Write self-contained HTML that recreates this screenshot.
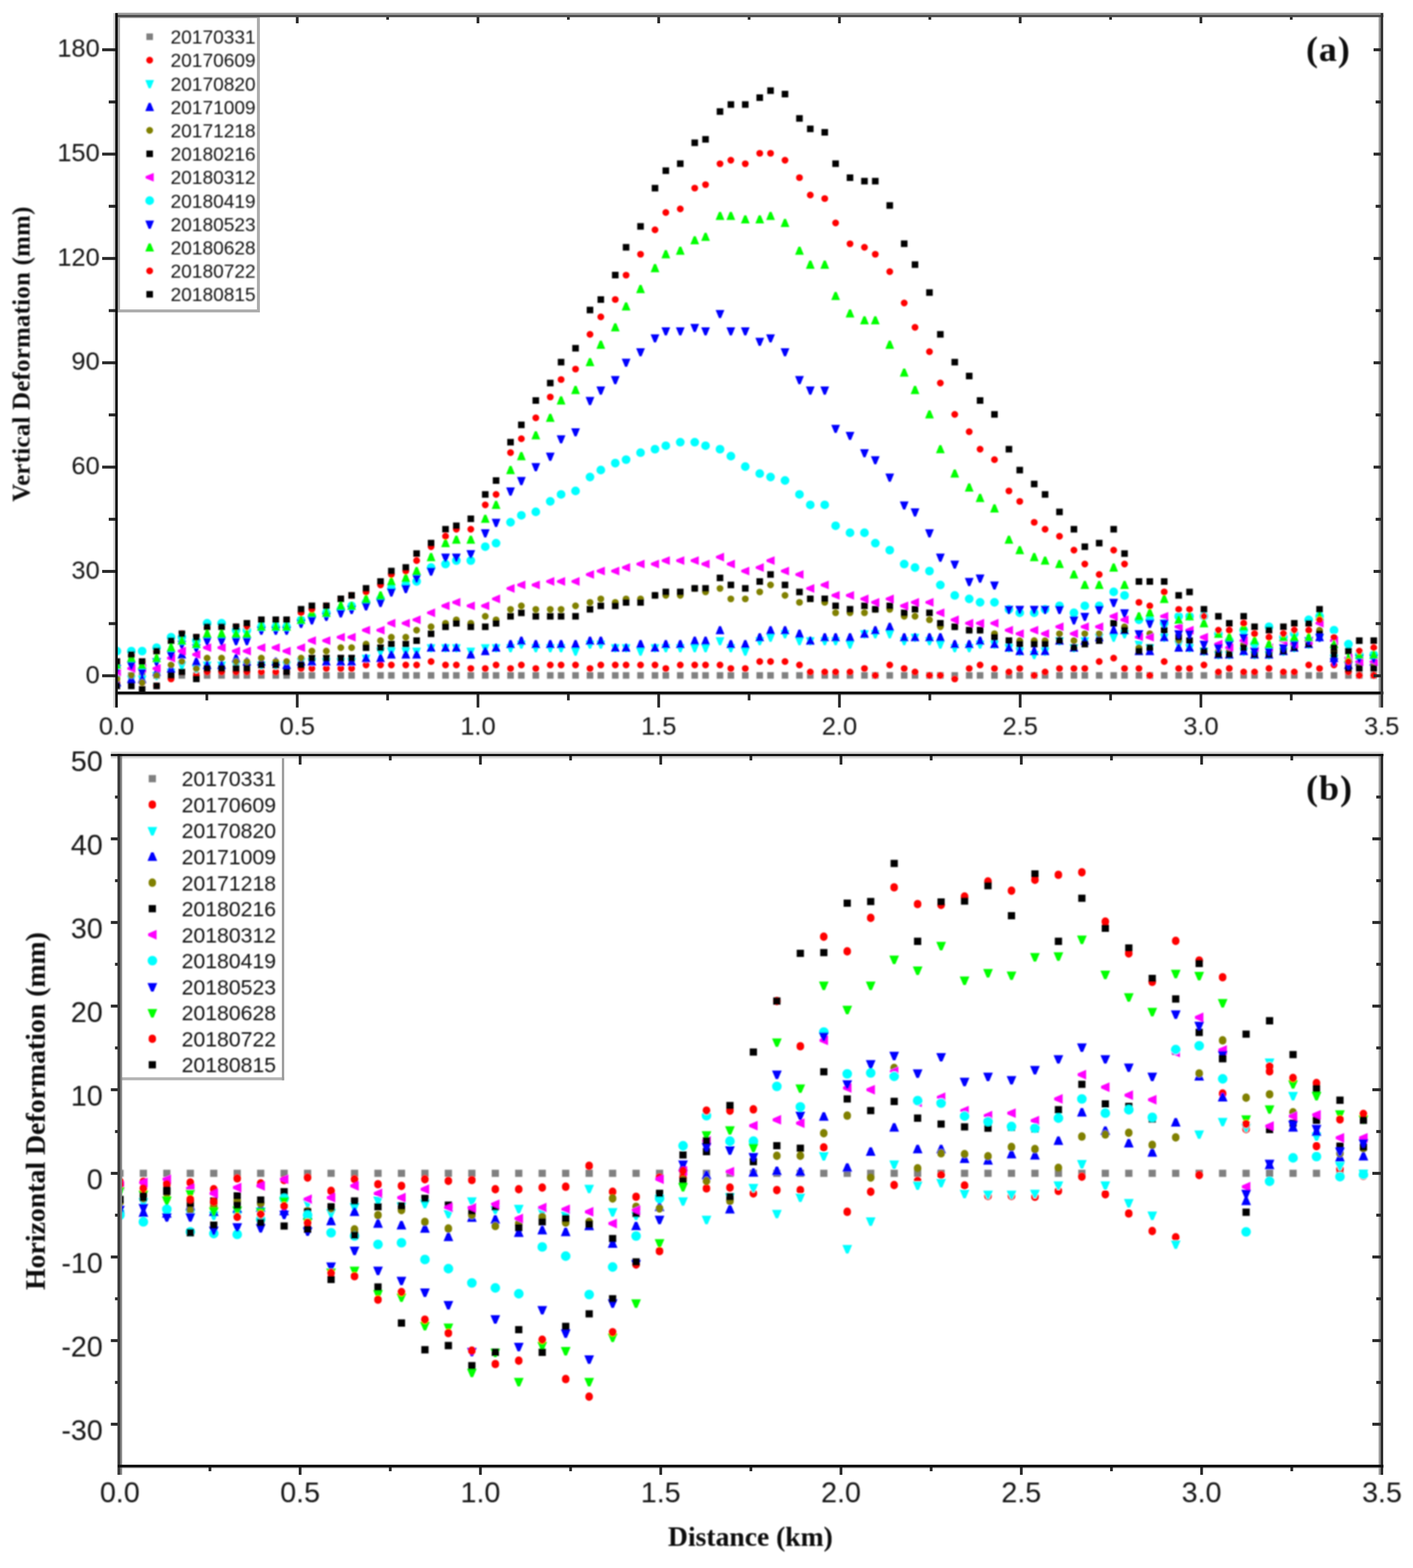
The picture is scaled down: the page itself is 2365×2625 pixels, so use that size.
<!DOCTYPE html>
<html lang="en"><head><meta charset="utf-8"><title>Vertical and horizontal deformation along the profile</title>
<style>
html,body{margin:0;padding:0;background:#fff}
body{width:2365px;height:2625px;overflow:hidden}
svg{display:block}
.t{font-family:"Liberation Sans",Arial,Helvetica,sans-serif;fill:#141414}
.s{font-family:"Liberation Serif","Times New Roman",Times,serif;font-weight:bold;fill:#0a0a0a}
</style></head><body>
<svg width="2365" height="2625" viewBox="0 0 2365 2625">
<defs>
<filter id="fm" filterUnits="userSpaceOnUse" x="0" y="0" width="2365" height="2625"><feGaussianBlur stdDeviation="1.3"/></filter>
<filter id="ft" filterUnits="userSpaceOnUse" x="0" y="0" width="2365" height="2625"><feGaussianBlur stdDeviation="0.8"/></filter>
<filter id="fl" filterUnits="userSpaceOnUse" x="0" y="0" width="2365" height="2625"><feGaussianBlur stdDeviation="0.7"/></filter>
<clipPath id="ca"><rect x="195" y="25" width="2117.5" height="1134.5"/></clipPath>
<clipPath id="cb"><rect x="200.5" y="1264" width="2112.5" height="1190"/></clipPath>
</defs>
<rect x="0" y="0" width="2365" height="2625" fill="#ffffff"/>
<g filter="url(#fm)">
<g clip-path="url(#ca)">
<path fill="#808080" d="M190.1 1125.3h11v11h-11zM214.3 1125.3h11v11h-11zM232.4 1125.3h11v11h-11zM256.6 1125.3h11v11h-11zM280.8 1125.3h11v11h-11zM298.9 1125.3h11v11h-11zM323.1 1125.3h11v11h-11zM341.2 1125.3h11v11h-11zM365.4 1125.3h11v11h-11zM389.6 1125.3h11v11h-11zM407.7 1125.3h11v11h-11zM431.9 1125.3h11v11h-11zM456.1 1125.3h11v11h-11zM474.2 1125.3h11v11h-11zM498.4 1125.3h11v11h-11zM516.5 1125.3h11v11h-11zM540.7 1125.3h11v11h-11zM564.9 1125.3h11v11h-11zM583 1125.3h11v11h-11zM607.2 1125.3h11v11h-11zM631.4 1125.3h11v11h-11zM649.5 1125.3h11v11h-11zM673.7 1125.3h11v11h-11zM691.8 1125.3h11v11h-11zM716 1125.3h11v11h-11zM740.2 1125.3h11v11h-11zM758.3 1125.3h11v11h-11zM782.5 1125.3h11v11h-11zM806.7 1125.3h11v11h-11zM824.8 1125.3h11v11h-11zM849 1125.3h11v11h-11zM867.1 1125.3h11v11h-11zM891.3 1125.3h11v11h-11zM915.5 1125.3h11v11h-11zM933.6 1125.3h11v11h-11zM957.8 1125.3h11v11h-11zM982 1125.3h11v11h-11zM1000.1 1125.3h11v11h-11zM1024.3 1125.3h11v11h-11zM1042.4 1125.3h11v11h-11zM1066.6 1125.3h11v11h-11zM1090.8 1125.3h11v11h-11zM1108.9 1125.3h11v11h-11zM1133.1 1125.3h11v11h-11zM1157.3 1125.3h11v11h-11zM1175.4 1125.3h11v11h-11zM1199.6 1125.3h11v11h-11zM1217.8 1125.3h11v11h-11zM1241.9 1125.3h11v11h-11zM1266.1 1125.3h11v11h-11zM1284.2 1125.3h11v11h-11zM1308.4 1125.3h11v11h-11zM1332.6 1125.3h11v11h-11zM1350.7 1125.3h11v11h-11zM1374.9 1125.3h11v11h-11zM1393.1 1125.3h11v11h-11zM1417.2 1125.3h11v11h-11zM1441.4 1125.3h11v11h-11zM1459.5 1125.3h11v11h-11zM1483.7 1125.3h11v11h-11zM1507.9 1125.3h11v11h-11zM1526 1125.3h11v11h-11zM1550.2 1125.3h11v11h-11zM1568.4 1125.3h11v11h-11zM1592.5 1125.3h11v11h-11zM1616.7 1125.3h11v11h-11zM1634.9 1125.3h11v11h-11zM1659 1125.3h11v11h-11zM1683.2 1125.3h11v11h-11zM1701.3 1125.3h11v11h-11zM1725.5 1125.3h11v11h-11zM1743.7 1125.3h11v11h-11zM1767.8 1125.3h11v11h-11zM1792 1125.3h11v11h-11zM1810.2 1125.3h11v11h-11zM1834.3 1125.3h11v11h-11zM1858.5 1125.3h11v11h-11zM1876.7 1125.3h11v11h-11zM1900.8 1125.3h11v11h-11zM1919 1125.3h11v11h-11zM1943.1 1125.3h11v11h-11zM1967.3 1125.3h11v11h-11zM1985.5 1125.3h11v11h-11zM2009.6 1125.3h11v11h-11zM2033.8 1125.3h11v11h-11zM2052 1125.3h11v11h-11zM2076.1 1125.3h11v11h-11zM2094.3 1125.3h11v11h-11zM2118.5 1125.3h11v11h-11zM2142.6 1125.3h11v11h-11zM2160.8 1125.3h11v11h-11zM2184.9 1125.3h11v11h-11zM2203.1 1125.3h11v11h-11zM2227.3 1125.3h11v11h-11zM2251.4 1125.3h11v11h-11zM2269.6 1125.3h11v11h-11zM2293.8 1125.3h11v11h-11z"/>
<path fill="#ff0000" d="M189.9 1142.5a5.7 5.7 0 1 0 11.4 0a5.7 5.7 0 1 0 -11.4 0zM214.1 1142.5a5.7 5.7 0 1 0 11.4 0a5.7 5.7 0 1 0 -11.4 0zM232.2 1142.5a5.7 5.7 0 1 0 11.4 0a5.7 5.7 0 1 0 -11.4 0zM256.4 1148.3a5.7 5.7 0 1 0 11.4 0a5.7 5.7 0 1 0 -11.4 0zM280.6 1136.6a5.7 5.7 0 1 0 11.4 0a5.7 5.7 0 1 0 -11.4 0zM298.7 1125a5.7 5.7 0 1 0 11.4 0a5.7 5.7 0 1 0 -11.4 0zM322.9 1130.8a5.7 5.7 0 1 0 11.4 0a5.7 5.7 0 1 0 -11.4 0zM341 1125a5.7 5.7 0 1 0 11.4 0a5.7 5.7 0 1 0 -11.4 0zM365.2 1125a5.7 5.7 0 1 0 11.4 0a5.7 5.7 0 1 0 -11.4 0zM389.4 1125a5.7 5.7 0 1 0 11.4 0a5.7 5.7 0 1 0 -11.4 0zM407.5 1125a5.7 5.7 0 1 0 11.4 0a5.7 5.7 0 1 0 -11.4 0zM431.7 1125a5.7 5.7 0 1 0 11.4 0a5.7 5.7 0 1 0 -11.4 0zM455.9 1125a5.7 5.7 0 1 0 11.4 0a5.7 5.7 0 1 0 -11.4 0zM474 1125a5.7 5.7 0 1 0 11.4 0a5.7 5.7 0 1 0 -11.4 0zM498.2 1119.1a5.7 5.7 0 1 0 11.4 0a5.7 5.7 0 1 0 -11.4 0zM516.3 1119.1a5.7 5.7 0 1 0 11.4 0a5.7 5.7 0 1 0 -11.4 0zM540.5 1119.1a5.7 5.7 0 1 0 11.4 0a5.7 5.7 0 1 0 -11.4 0zM564.7 1119.1a5.7 5.7 0 1 0 11.4 0a5.7 5.7 0 1 0 -11.4 0zM582.8 1119.1a5.7 5.7 0 1 0 11.4 0a5.7 5.7 0 1 0 -11.4 0zM607 1113.3a5.7 5.7 0 1 0 11.4 0a5.7 5.7 0 1 0 -11.4 0zM631.2 1113.3a5.7 5.7 0 1 0 11.4 0a5.7 5.7 0 1 0 -11.4 0zM649.3 1113.3a5.7 5.7 0 1 0 11.4 0a5.7 5.7 0 1 0 -11.4 0zM673.5 1113.3a5.7 5.7 0 1 0 11.4 0a5.7 5.7 0 1 0 -11.4 0zM691.6 1113.3a5.7 5.7 0 1 0 11.4 0a5.7 5.7 0 1 0 -11.4 0zM715.8 1107.5a5.7 5.7 0 1 0 11.4 0a5.7 5.7 0 1 0 -11.4 0zM740 1113.3a5.7 5.7 0 1 0 11.4 0a5.7 5.7 0 1 0 -11.4 0zM758.1 1113.3a5.7 5.7 0 1 0 11.4 0a5.7 5.7 0 1 0 -11.4 0zM782.3 1119.1a5.7 5.7 0 1 0 11.4 0a5.7 5.7 0 1 0 -11.4 0zM806.5 1119.1a5.7 5.7 0 1 0 11.4 0a5.7 5.7 0 1 0 -11.4 0zM824.6 1113.3a5.7 5.7 0 1 0 11.4 0a5.7 5.7 0 1 0 -11.4 0zM848.8 1119.1a5.7 5.7 0 1 0 11.4 0a5.7 5.7 0 1 0 -11.4 0zM866.9 1113.3a5.7 5.7 0 1 0 11.4 0a5.7 5.7 0 1 0 -11.4 0zM891.1 1119.1a5.7 5.7 0 1 0 11.4 0a5.7 5.7 0 1 0 -11.4 0zM915.3 1113.3a5.7 5.7 0 1 0 11.4 0a5.7 5.7 0 1 0 -11.4 0zM933.4 1113.3a5.7 5.7 0 1 0 11.4 0a5.7 5.7 0 1 0 -11.4 0zM957.6 1113.3a5.7 5.7 0 1 0 11.4 0a5.7 5.7 0 1 0 -11.4 0zM981.8 1119.1a5.7 5.7 0 1 0 11.4 0a5.7 5.7 0 1 0 -11.4 0zM999.9 1113.3a5.7 5.7 0 1 0 11.4 0a5.7 5.7 0 1 0 -11.4 0zM1024.1 1113.3a5.7 5.7 0 1 0 11.4 0a5.7 5.7 0 1 0 -11.4 0zM1042.2 1113.3a5.7 5.7 0 1 0 11.4 0a5.7 5.7 0 1 0 -11.4 0zM1066.4 1113.3a5.7 5.7 0 1 0 11.4 0a5.7 5.7 0 1 0 -11.4 0zM1090.6 1113.3a5.7 5.7 0 1 0 11.4 0a5.7 5.7 0 1 0 -11.4 0zM1108.7 1119.1a5.7 5.7 0 1 0 11.4 0a5.7 5.7 0 1 0 -11.4 0zM1132.9 1113.3a5.7 5.7 0 1 0 11.4 0a5.7 5.7 0 1 0 -11.4 0zM1157.1 1113.3a5.7 5.7 0 1 0 11.4 0a5.7 5.7 0 1 0 -11.4 0zM1175.2 1113.3a5.7 5.7 0 1 0 11.4 0a5.7 5.7 0 1 0 -11.4 0zM1199.4 1113.3a5.7 5.7 0 1 0 11.4 0a5.7 5.7 0 1 0 -11.4 0zM1217.5 1119.1a5.7 5.7 0 1 0 11.4 0a5.7 5.7 0 1 0 -11.4 0zM1241.7 1119.1a5.7 5.7 0 1 0 11.4 0a5.7 5.7 0 1 0 -11.4 0zM1265.9 1107.5a5.7 5.7 0 1 0 11.4 0a5.7 5.7 0 1 0 -11.4 0zM1284 1107.5a5.7 5.7 0 1 0 11.4 0a5.7 5.7 0 1 0 -11.4 0zM1308.2 1107.5a5.7 5.7 0 1 0 11.4 0a5.7 5.7 0 1 0 -11.4 0zM1332.4 1113.3a5.7 5.7 0 1 0 11.4 0a5.7 5.7 0 1 0 -11.4 0zM1350.5 1125a5.7 5.7 0 1 0 11.4 0a5.7 5.7 0 1 0 -11.4 0zM1374.7 1125a5.7 5.7 0 1 0 11.4 0a5.7 5.7 0 1 0 -11.4 0zM1392.9 1125a5.7 5.7 0 1 0 11.4 0a5.7 5.7 0 1 0 -11.4 0zM1417 1125a5.7 5.7 0 1 0 11.4 0a5.7 5.7 0 1 0 -11.4 0zM1441.2 1119.1a5.7 5.7 0 1 0 11.4 0a5.7 5.7 0 1 0 -11.4 0zM1459.3 1130.8a5.7 5.7 0 1 0 11.4 0a5.7 5.7 0 1 0 -11.4 0zM1483.5 1113.3a5.7 5.7 0 1 0 11.4 0a5.7 5.7 0 1 0 -11.4 0zM1507.7 1119.1a5.7 5.7 0 1 0 11.4 0a5.7 5.7 0 1 0 -11.4 0zM1525.8 1125a5.7 5.7 0 1 0 11.4 0a5.7 5.7 0 1 0 -11.4 0zM1550 1130.8a5.7 5.7 0 1 0 11.4 0a5.7 5.7 0 1 0 -11.4 0zM1568.2 1130.8a5.7 5.7 0 1 0 11.4 0a5.7 5.7 0 1 0 -11.4 0zM1592.3 1136.6a5.7 5.7 0 1 0 11.4 0a5.7 5.7 0 1 0 -11.4 0zM1616.5 1119.1a5.7 5.7 0 1 0 11.4 0a5.7 5.7 0 1 0 -11.4 0zM1634.7 1113.3a5.7 5.7 0 1 0 11.4 0a5.7 5.7 0 1 0 -11.4 0zM1658.8 1119.1a5.7 5.7 0 1 0 11.4 0a5.7 5.7 0 1 0 -11.4 0zM1683 1125a5.7 5.7 0 1 0 11.4 0a5.7 5.7 0 1 0 -11.4 0zM1701.1 1119.1a5.7 5.7 0 1 0 11.4 0a5.7 5.7 0 1 0 -11.4 0zM1725.3 1130.8a5.7 5.7 0 1 0 11.4 0a5.7 5.7 0 1 0 -11.4 0zM1743.5 1125a5.7 5.7 0 1 0 11.4 0a5.7 5.7 0 1 0 -11.4 0zM1767.6 1119.1a5.7 5.7 0 1 0 11.4 0a5.7 5.7 0 1 0 -11.4 0zM1791.8 1119.1a5.7 5.7 0 1 0 11.4 0a5.7 5.7 0 1 0 -11.4 0zM1810 1119.1a5.7 5.7 0 1 0 11.4 0a5.7 5.7 0 1 0 -11.4 0zM1834.1 1107.5a5.7 5.7 0 1 0 11.4 0a5.7 5.7 0 1 0 -11.4 0zM1858.3 1101.7a5.7 5.7 0 1 0 11.4 0a5.7 5.7 0 1 0 -11.4 0zM1876.5 1119.1a5.7 5.7 0 1 0 11.4 0a5.7 5.7 0 1 0 -11.4 0zM1900.6 1119.1a5.7 5.7 0 1 0 11.4 0a5.7 5.7 0 1 0 -11.4 0zM1918.8 1130.8a5.7 5.7 0 1 0 11.4 0a5.7 5.7 0 1 0 -11.4 0zM1942.9 1107.5a5.7 5.7 0 1 0 11.4 0a5.7 5.7 0 1 0 -11.4 0zM1967.1 1119.1a5.7 5.7 0 1 0 11.4 0a5.7 5.7 0 1 0 -11.4 0zM1985.3 1119.1a5.7 5.7 0 1 0 11.4 0a5.7 5.7 0 1 0 -11.4 0zM2009.4 1113.3a5.7 5.7 0 1 0 11.4 0a5.7 5.7 0 1 0 -11.4 0zM2033.6 1125a5.7 5.7 0 1 0 11.4 0a5.7 5.7 0 1 0 -11.4 0zM2051.8 1119.1a5.7 5.7 0 1 0 11.4 0a5.7 5.7 0 1 0 -11.4 0zM2075.9 1125a5.7 5.7 0 1 0 11.4 0a5.7 5.7 0 1 0 -11.4 0zM2094.1 1125a5.7 5.7 0 1 0 11.4 0a5.7 5.7 0 1 0 -11.4 0zM2118.3 1119.1a5.7 5.7 0 1 0 11.4 0a5.7 5.7 0 1 0 -11.4 0zM2142.4 1125a5.7 5.7 0 1 0 11.4 0a5.7 5.7 0 1 0 -11.4 0zM2160.6 1125a5.7 5.7 0 1 0 11.4 0a5.7 5.7 0 1 0 -11.4 0zM2184.8 1113.3a5.7 5.7 0 1 0 11.4 0a5.7 5.7 0 1 0 -11.4 0zM2202.9 1119.1a5.7 5.7 0 1 0 11.4 0a5.7 5.7 0 1 0 -11.4 0zM2227.1 1113.3a5.7 5.7 0 1 0 11.4 0a5.7 5.7 0 1 0 -11.4 0zM2251.2 1125a5.7 5.7 0 1 0 11.4 0a5.7 5.7 0 1 0 -11.4 0zM2269.4 1130.8a5.7 5.7 0 1 0 11.4 0a5.7 5.7 0 1 0 -11.4 0zM2293.6 1130.8a5.7 5.7 0 1 0 11.4 0a5.7 5.7 0 1 0 -11.4 0z"/>
<path fill="#00ffff" d="M193.9 1138.6h3.4l5.6 -13.6h-14.6zM218.1 1144.4h3.4l5.6 -13.6h-14.6zM236.2 1144.4h3.4l5.6 -13.6h-14.6zM260.4 1138.6h3.4l5.6 -13.6h-14.6zM284.6 1132.8h3.4l5.6 -13.6h-14.6zM302.7 1121.1h3.4l5.6 -13.6h-14.6zM326.9 1126.9h3.4l5.6 -13.6h-14.6zM345 1121.1h3.4l5.6 -13.6h-14.6zM369.2 1121.1h3.4l5.6 -13.6h-14.6zM393.4 1121.1h3.4l5.6 -13.6h-14.6zM411.5 1121.1h3.4l5.6 -13.6h-14.6zM435.7 1121.1h3.4l5.6 -13.6h-14.6zM459.9 1121.1h3.4l5.6 -13.6h-14.6zM478 1121.1h3.4l5.6 -13.6h-14.6zM502.2 1115.3h3.4l5.6 -13.6h-14.6zM520.3 1115.3h3.4l5.6 -13.6h-14.6zM544.5 1115.3h3.4l5.6 -13.6h-14.6zM568.7 1115.3h3.4l5.6 -13.6h-14.6zM586.8 1115.3h3.4l5.6 -13.6h-14.6zM611 1109.5h3.4l5.6 -13.6h-14.6zM635.2 1097.8h3.4l5.6 -13.6h-14.6zM653.3 1097.8h3.4l5.6 -13.6h-14.6zM677.5 1097.8h3.4l5.6 -13.6h-14.6zM695.6 1097.8h3.4l5.6 -13.6h-14.6zM719.8 1092h3.4l5.6 -13.6h-14.6zM744 1092h3.4l5.6 -13.6h-14.6zM762.1 1092h3.4l5.6 -13.6h-14.6zM786.3 1097.8h3.4l5.6 -13.6h-14.6zM810.5 1092h3.4l5.6 -13.6h-14.6zM828.6 1092h3.4l5.6 -13.6h-14.6zM852.8 1092h3.4l5.6 -13.6h-14.6zM870.9 1086.1h3.4l5.6 -13.6h-14.6zM895.1 1092h3.4l5.6 -13.6h-14.6zM919.3 1092h3.4l5.6 -13.6h-14.6zM937.4 1092h3.4l5.6 -13.6h-14.6zM961.6 1097.8h3.4l5.6 -13.6h-14.6zM985.8 1086.1h3.4l5.6 -13.6h-14.6zM1003.9 1086.1h3.4l5.6 -13.6h-14.6zM1028.1 1092h3.4l5.6 -13.6h-14.6zM1046.2 1092h3.4l5.6 -13.6h-14.6zM1070.4 1097.8h3.4l5.6 -13.6h-14.6zM1094.6 1092h3.4l5.6 -13.6h-14.6zM1112.7 1092h3.4l5.6 -13.6h-14.6zM1136.9 1092h3.4l5.6 -13.6h-14.6zM1161.1 1092h3.4l5.6 -13.6h-14.6zM1179.2 1092h3.4l5.6 -13.6h-14.6zM1203.4 1080.3h3.4l5.6 -13.6h-14.6zM1221.5 1092h3.4l5.6 -13.6h-14.6zM1245.7 1097.8h3.4l5.6 -13.6h-14.6zM1269.9 1080.3h3.4l5.6 -13.6h-14.6zM1288 1074.5h3.4l5.6 -13.6h-14.6zM1312.2 1068.7h3.4l5.6 -13.6h-14.6zM1336.4 1080.3h3.4l5.6 -13.6h-14.6zM1354.5 1080.3h3.4l5.6 -13.6h-14.6zM1378.7 1080.3h3.4l5.6 -13.6h-14.6zM1396.9 1080.3h3.4l5.6 -13.6h-14.6zM1421 1086.1h3.4l5.6 -13.6h-14.6zM1445.2 1068.7h3.4l5.6 -13.6h-14.6zM1463.3 1068.7h3.4l5.6 -13.6h-14.6zM1487.5 1068.7h3.4l5.6 -13.6h-14.6zM1511.7 1080.3h3.4l5.6 -13.6h-14.6zM1529.8 1074.5h3.4l5.6 -13.6h-14.6zM1554 1080.3h3.4l5.6 -13.6h-14.6zM1572.2 1086.1h3.4l5.6 -13.6h-14.6zM1596.3 1092h3.4l5.6 -13.6h-14.6zM1620.5 1092h3.4l5.6 -13.6h-14.6zM1638.7 1086.1h3.4l5.6 -13.6h-14.6zM1662.8 1086.1h3.4l5.6 -13.6h-14.6zM1687 1092h3.4l5.6 -13.6h-14.6zM1705.1 1097.8h3.4l5.6 -13.6h-14.6zM1729.3 1103.6h3.4l5.6 -13.6h-14.6zM1747.5 1097.8h3.4l5.6 -13.6h-14.6zM1771.6 1080.3h3.4l5.6 -13.6h-14.6zM1795.8 1092h3.4l5.6 -13.6h-14.6zM1814 1080.3h3.4l5.6 -13.6h-14.6zM1838.1 1074.5h3.4l5.6 -13.6h-14.6zM1862.3 1074.5h3.4l5.6 -13.6h-14.6zM1880.5 1068.7h3.4l5.6 -13.6h-14.6zM1904.6 1086.1h3.4l5.6 -13.6h-14.6zM1922.8 1092h3.4l5.6 -13.6h-14.6zM1946.9 1074.5h3.4l5.6 -13.6h-14.6zM1971.1 1086.1h3.4l5.6 -13.6h-14.6zM1989.3 1092h3.4l5.6 -13.6h-14.6zM2013.4 1097.8h3.4l5.6 -13.6h-14.6zM2037.6 1103.6h3.4l5.6 -13.6h-14.6zM2055.8 1103.6h3.4l5.6 -13.6h-14.6zM2079.9 1097.8h3.4l5.6 -13.6h-14.6zM2098.1 1103.6h3.4l5.6 -13.6h-14.6zM2122.3 1103.6h3.4l5.6 -13.6h-14.6zM2146.4 1097.8h3.4l5.6 -13.6h-14.6zM2164.6 1092h3.4l5.6 -13.6h-14.6zM2188.8 1086.1h3.4l5.6 -13.6h-14.6zM2206.9 1074.5h3.4l5.6 -13.6h-14.6zM2231.1 1109.5h3.4l5.6 -13.6h-14.6zM2255.2 1121.1h3.4l5.6 -13.6h-14.6zM2273.4 1115.3h3.4l5.6 -13.6h-14.6zM2297.6 1115.3h3.4l5.6 -13.6h-14.6z"/>
<path fill="#0000ff" d="M193.9 1135.7h3.4l5.6 13.6h-14.6zM218.1 1129.8h3.4l5.6 13.6h-14.6zM236.2 1129.8h3.4l5.6 13.6h-14.6zM260.4 1118.2h3.4l5.6 13.6h-14.6zM284.6 1112.3h3.4l5.6 13.6h-14.6zM302.7 1089h3.4l5.6 13.6h-14.6zM326.9 1100.7h3.4l5.6 13.6h-14.6zM345 1106.5h3.4l5.6 13.6h-14.6zM369.2 1106.5h3.4l5.6 13.6h-14.6zM393.4 1094.9h3.4l5.6 13.6h-14.6zM411.5 1100.7h3.4l5.6 13.6h-14.6zM435.7 1100.7h3.4l5.6 13.6h-14.6zM459.9 1100.7h3.4l5.6 13.6h-14.6zM478 1106.5h3.4l5.6 13.6h-14.6zM502.2 1100.7h3.4l5.6 13.6h-14.6zM520.3 1100.7h3.4l5.6 13.6h-14.6zM544.5 1100.7h3.4l5.6 13.6h-14.6zM568.7 1100.7h3.4l5.6 13.6h-14.6zM586.8 1100.7h3.4l5.6 13.6h-14.6zM611 1094.9h3.4l5.6 13.6h-14.6zM635.2 1094.9h3.4l5.6 13.6h-14.6zM653.3 1089h3.4l5.6 13.6h-14.6zM677.5 1089h3.4l5.6 13.6h-14.6zM695.6 1089h3.4l5.6 13.6h-14.6zM719.8 1077.4h3.4l5.6 13.6h-14.6zM744 1077.4h3.4l5.6 13.6h-14.6zM762.1 1077.4h3.4l5.6 13.6h-14.6zM786.3 1089h3.4l5.6 13.6h-14.6zM810.5 1083.2h3.4l5.6 13.6h-14.6zM828.6 1077.4h3.4l5.6 13.6h-14.6zM852.8 1071.5h3.4l5.6 13.6h-14.6zM870.9 1065.7h3.4l5.6 13.6h-14.6zM895.1 1071.5h3.4l5.6 13.6h-14.6zM919.3 1071.5h3.4l5.6 13.6h-14.6zM937.4 1071.5h3.4l5.6 13.6h-14.6zM961.6 1071.5h3.4l5.6 13.6h-14.6zM985.8 1065.7h3.4l5.6 13.6h-14.6zM1003.9 1065.7h3.4l5.6 13.6h-14.6zM1028.1 1077.4h3.4l5.6 13.6h-14.6zM1046.2 1077.4h3.4l5.6 13.6h-14.6zM1070.4 1071.5h3.4l5.6 13.6h-14.6zM1094.6 1077.4h3.4l5.6 13.6h-14.6zM1112.7 1071.5h3.4l5.6 13.6h-14.6zM1136.9 1071.5h3.4l5.6 13.6h-14.6zM1161.1 1065.7h3.4l5.6 13.6h-14.6zM1179.2 1065.7h3.4l5.6 13.6h-14.6zM1203.4 1048.2h3.4l5.6 13.6h-14.6zM1221.5 1071.5h3.4l5.6 13.6h-14.6zM1245.7 1071.5h3.4l5.6 13.6h-14.6zM1269.9 1059.9h3.4l5.6 13.6h-14.6zM1288 1048.2h3.4l5.6 13.6h-14.6zM1312.2 1048.2h3.4l5.6 13.6h-14.6zM1336.4 1054.1h3.4l5.6 13.6h-14.6zM1354.5 1065.7h3.4l5.6 13.6h-14.6zM1378.7 1059.9h3.4l5.6 13.6h-14.6zM1396.9 1059.9h3.4l5.6 13.6h-14.6zM1421 1059.9h3.4l5.6 13.6h-14.6zM1445.2 1054.1h3.4l5.6 13.6h-14.6zM1463.3 1048.2h3.4l5.6 13.6h-14.6zM1487.5 1042.4h3.4l5.6 13.6h-14.6zM1511.7 1059.9h3.4l5.6 13.6h-14.6zM1529.8 1059.9h3.4l5.6 13.6h-14.6zM1554 1059.9h3.4l5.6 13.6h-14.6zM1572.2 1059.9h3.4l5.6 13.6h-14.6zM1596.3 1071.5h3.4l5.6 13.6h-14.6zM1620.5 1071.5h3.4l5.6 13.6h-14.6zM1638.7 1065.7h3.4l5.6 13.6h-14.6zM1662.8 1071.5h3.4l5.6 13.6h-14.6zM1687 1077.4h3.4l5.6 13.6h-14.6zM1705.1 1083.2h3.4l5.6 13.6h-14.6zM1729.3 1083.2h3.4l5.6 13.6h-14.6zM1747.5 1083.2h3.4l5.6 13.6h-14.6zM1771.6 1065.7h3.4l5.6 13.6h-14.6zM1795.8 1077.4h3.4l5.6 13.6h-14.6zM1814 1065.7h3.4l5.6 13.6h-14.6zM1838.1 1059.9h3.4l5.6 13.6h-14.6zM1862.3 1048.2h3.4l5.6 13.6h-14.6zM1880.5 1048.2h3.4l5.6 13.6h-14.6zM1904.6 1083.2h3.4l5.6 13.6h-14.6zM1922.8 1083.2h3.4l5.6 13.6h-14.6zM1946.9 1059.9h3.4l5.6 13.6h-14.6zM1971.1 1077.4h3.4l5.6 13.6h-14.6zM1989.3 1077.4h3.4l5.6 13.6h-14.6zM2013.4 1083.2h3.4l5.6 13.6h-14.6zM2037.6 1089h3.4l5.6 13.6h-14.6zM2055.8 1089h3.4l5.6 13.6h-14.6zM2079.9 1083.2h3.4l5.6 13.6h-14.6zM2098.1 1089h3.4l5.6 13.6h-14.6zM2122.3 1089h3.4l5.6 13.6h-14.6zM2146.4 1083.2h3.4l5.6 13.6h-14.6zM2164.6 1077.4h3.4l5.6 13.6h-14.6zM2188.8 1071.5h3.4l5.6 13.6h-14.6zM2206.9 1059.9h3.4l5.6 13.6h-14.6zM2231.1 1094.9h3.4l5.6 13.6h-14.6zM2255.2 1106.5h3.4l5.6 13.6h-14.6zM2273.4 1100.7h3.4l5.6 13.6h-14.6zM2297.6 1100.7h3.4l5.6 13.6h-14.6z"/>
<path fill="#808000" d="M189.9 1136.6a5.7 5.7 0 1 0 11.4 0a5.7 5.7 0 1 0 -11.4 0zM214.1 1130.8a5.7 5.7 0 1 0 11.4 0a5.7 5.7 0 1 0 -11.4 0zM232.2 1142.5a5.7 5.7 0 1 0 11.4 0a5.7 5.7 0 1 0 -11.4 0zM256.4 1130.8a5.7 5.7 0 1 0 11.4 0a5.7 5.7 0 1 0 -11.4 0zM280.6 1113.3a5.7 5.7 0 1 0 11.4 0a5.7 5.7 0 1 0 -11.4 0zM298.7 1107.5a5.7 5.7 0 1 0 11.4 0a5.7 5.7 0 1 0 -11.4 0zM322.9 1119.1a5.7 5.7 0 1 0 11.4 0a5.7 5.7 0 1 0 -11.4 0zM341 1101.7a5.7 5.7 0 1 0 11.4 0a5.7 5.7 0 1 0 -11.4 0zM365.2 1101.7a5.7 5.7 0 1 0 11.4 0a5.7 5.7 0 1 0 -11.4 0zM389.4 1107.5a5.7 5.7 0 1 0 11.4 0a5.7 5.7 0 1 0 -11.4 0zM407.5 1107.5a5.7 5.7 0 1 0 11.4 0a5.7 5.7 0 1 0 -11.4 0zM431.7 1101.7a5.7 5.7 0 1 0 11.4 0a5.7 5.7 0 1 0 -11.4 0zM455.9 1107.5a5.7 5.7 0 1 0 11.4 0a5.7 5.7 0 1 0 -11.4 0zM474 1107.5a5.7 5.7 0 1 0 11.4 0a5.7 5.7 0 1 0 -11.4 0zM498.2 1101.7a5.7 5.7 0 1 0 11.4 0a5.7 5.7 0 1 0 -11.4 0zM516.3 1090a5.7 5.7 0 1 0 11.4 0a5.7 5.7 0 1 0 -11.4 0zM540.5 1090a5.7 5.7 0 1 0 11.4 0a5.7 5.7 0 1 0 -11.4 0zM564.7 1084.2a5.7 5.7 0 1 0 11.4 0a5.7 5.7 0 1 0 -11.4 0zM582.8 1084.2a5.7 5.7 0 1 0 11.4 0a5.7 5.7 0 1 0 -11.4 0zM607 1078.3a5.7 5.7 0 1 0 11.4 0a5.7 5.7 0 1 0 -11.4 0zM631.2 1072.5a5.7 5.7 0 1 0 11.4 0a5.7 5.7 0 1 0 -11.4 0zM649.3 1066.7a5.7 5.7 0 1 0 11.4 0a5.7 5.7 0 1 0 -11.4 0zM673.5 1066.7a5.7 5.7 0 1 0 11.4 0a5.7 5.7 0 1 0 -11.4 0zM691.6 1055a5.7 5.7 0 1 0 11.4 0a5.7 5.7 0 1 0 -11.4 0zM715.8 1049.2a5.7 5.7 0 1 0 11.4 0a5.7 5.7 0 1 0 -11.4 0zM740 1043.4a5.7 5.7 0 1 0 11.4 0a5.7 5.7 0 1 0 -11.4 0zM758.1 1037.6a5.7 5.7 0 1 0 11.4 0a5.7 5.7 0 1 0 -11.4 0zM782.3 1043.4a5.7 5.7 0 1 0 11.4 0a5.7 5.7 0 1 0 -11.4 0zM806.5 1031.7a5.7 5.7 0 1 0 11.4 0a5.7 5.7 0 1 0 -11.4 0zM824.6 1037.6a5.7 5.7 0 1 0 11.4 0a5.7 5.7 0 1 0 -11.4 0zM848.8 1020.1a5.7 5.7 0 1 0 11.4 0a5.7 5.7 0 1 0 -11.4 0zM866.9 1014.2a5.7 5.7 0 1 0 11.4 0a5.7 5.7 0 1 0 -11.4 0zM891.1 1020.1a5.7 5.7 0 1 0 11.4 0a5.7 5.7 0 1 0 -11.4 0zM915.3 1020.1a5.7 5.7 0 1 0 11.4 0a5.7 5.7 0 1 0 -11.4 0zM933.4 1020.1a5.7 5.7 0 1 0 11.4 0a5.7 5.7 0 1 0 -11.4 0zM957.6 1014.2a5.7 5.7 0 1 0 11.4 0a5.7 5.7 0 1 0 -11.4 0zM981.8 1008.4a5.7 5.7 0 1 0 11.4 0a5.7 5.7 0 1 0 -11.4 0zM999.9 1002.6a5.7 5.7 0 1 0 11.4 0a5.7 5.7 0 1 0 -11.4 0zM1024.1 1008.4a5.7 5.7 0 1 0 11.4 0a5.7 5.7 0 1 0 -11.4 0zM1042.2 1002.6a5.7 5.7 0 1 0 11.4 0a5.7 5.7 0 1 0 -11.4 0zM1066.4 1002.6a5.7 5.7 0 1 0 11.4 0a5.7 5.7 0 1 0 -11.4 0zM1090.6 996.8a5.7 5.7 0 1 0 11.4 0a5.7 5.7 0 1 0 -11.4 0zM1108.7 996.8a5.7 5.7 0 1 0 11.4 0a5.7 5.7 0 1 0 -11.4 0zM1132.9 996.8a5.7 5.7 0 1 0 11.4 0a5.7 5.7 0 1 0 -11.4 0zM1157.1 985.1a5.7 5.7 0 1 0 11.4 0a5.7 5.7 0 1 0 -11.4 0zM1175.2 990.9a5.7 5.7 0 1 0 11.4 0a5.7 5.7 0 1 0 -11.4 0zM1199.4 985.1a5.7 5.7 0 1 0 11.4 0a5.7 5.7 0 1 0 -11.4 0zM1217.5 1002.6a5.7 5.7 0 1 0 11.4 0a5.7 5.7 0 1 0 -11.4 0zM1241.7 1002.6a5.7 5.7 0 1 0 11.4 0a5.7 5.7 0 1 0 -11.4 0zM1265.9 990.9a5.7 5.7 0 1 0 11.4 0a5.7 5.7 0 1 0 -11.4 0zM1284 979.3a5.7 5.7 0 1 0 11.4 0a5.7 5.7 0 1 0 -11.4 0zM1308.2 996.8a5.7 5.7 0 1 0 11.4 0a5.7 5.7 0 1 0 -11.4 0zM1332.4 1008.4a5.7 5.7 0 1 0 11.4 0a5.7 5.7 0 1 0 -11.4 0zM1350.5 1002.6a5.7 5.7 0 1 0 11.4 0a5.7 5.7 0 1 0 -11.4 0zM1374.7 1008.4a5.7 5.7 0 1 0 11.4 0a5.7 5.7 0 1 0 -11.4 0zM1392.9 1025.9a5.7 5.7 0 1 0 11.4 0a5.7 5.7 0 1 0 -11.4 0zM1417 1025.9a5.7 5.7 0 1 0 11.4 0a5.7 5.7 0 1 0 -11.4 0zM1441.2 1025.9a5.7 5.7 0 1 0 11.4 0a5.7 5.7 0 1 0 -11.4 0zM1459.3 1020.1a5.7 5.7 0 1 0 11.4 0a5.7 5.7 0 1 0 -11.4 0zM1483.5 1020.1a5.7 5.7 0 1 0 11.4 0a5.7 5.7 0 1 0 -11.4 0zM1507.7 1031.7a5.7 5.7 0 1 0 11.4 0a5.7 5.7 0 1 0 -11.4 0zM1525.8 1031.7a5.7 5.7 0 1 0 11.4 0a5.7 5.7 0 1 0 -11.4 0zM1550 1037.6a5.7 5.7 0 1 0 11.4 0a5.7 5.7 0 1 0 -11.4 0zM1568.2 1049.2a5.7 5.7 0 1 0 11.4 0a5.7 5.7 0 1 0 -11.4 0zM1592.3 1049.2a5.7 5.7 0 1 0 11.4 0a5.7 5.7 0 1 0 -11.4 0zM1616.5 1055a5.7 5.7 0 1 0 11.4 0a5.7 5.7 0 1 0 -11.4 0zM1634.7 1055a5.7 5.7 0 1 0 11.4 0a5.7 5.7 0 1 0 -11.4 0zM1658.8 1060.9a5.7 5.7 0 1 0 11.4 0a5.7 5.7 0 1 0 -11.4 0zM1683 1072.5a5.7 5.7 0 1 0 11.4 0a5.7 5.7 0 1 0 -11.4 0zM1701.1 1072.5a5.7 5.7 0 1 0 11.4 0a5.7 5.7 0 1 0 -11.4 0zM1725.3 1072.5a5.7 5.7 0 1 0 11.4 0a5.7 5.7 0 1 0 -11.4 0zM1743.5 1072.5a5.7 5.7 0 1 0 11.4 0a5.7 5.7 0 1 0 -11.4 0zM1767.6 1060.9a5.7 5.7 0 1 0 11.4 0a5.7 5.7 0 1 0 -11.4 0zM1791.8 1072.5a5.7 5.7 0 1 0 11.4 0a5.7 5.7 0 1 0 -11.4 0zM1810 1060.9a5.7 5.7 0 1 0 11.4 0a5.7 5.7 0 1 0 -11.4 0zM1834.1 1060.9a5.7 5.7 0 1 0 11.4 0a5.7 5.7 0 1 0 -11.4 0zM1858.3 1043.4a5.7 5.7 0 1 0 11.4 0a5.7 5.7 0 1 0 -11.4 0zM1876.5 1049.2a5.7 5.7 0 1 0 11.4 0a5.7 5.7 0 1 0 -11.4 0zM1900.6 1084.2a5.7 5.7 0 1 0 11.4 0a5.7 5.7 0 1 0 -11.4 0zM1918.8 1060.9a5.7 5.7 0 1 0 11.4 0a5.7 5.7 0 1 0 -11.4 0zM1942.9 1055a5.7 5.7 0 1 0 11.4 0a5.7 5.7 0 1 0 -11.4 0zM1967.1 1072.5a5.7 5.7 0 1 0 11.4 0a5.7 5.7 0 1 0 -11.4 0zM1985.3 1072.5a5.7 5.7 0 1 0 11.4 0a5.7 5.7 0 1 0 -11.4 0zM2009.4 1090a5.7 5.7 0 1 0 11.4 0a5.7 5.7 0 1 0 -11.4 0zM2033.6 1090a5.7 5.7 0 1 0 11.4 0a5.7 5.7 0 1 0 -11.4 0zM2051.8 1090a5.7 5.7 0 1 0 11.4 0a5.7 5.7 0 1 0 -11.4 0zM2075.9 1078.3a5.7 5.7 0 1 0 11.4 0a5.7 5.7 0 1 0 -11.4 0zM2094.1 1090a5.7 5.7 0 1 0 11.4 0a5.7 5.7 0 1 0 -11.4 0zM2118.3 1090a5.7 5.7 0 1 0 11.4 0a5.7 5.7 0 1 0 -11.4 0zM2142.4 1084.2a5.7 5.7 0 1 0 11.4 0a5.7 5.7 0 1 0 -11.4 0zM2160.6 1078.3a5.7 5.7 0 1 0 11.4 0a5.7 5.7 0 1 0 -11.4 0zM2184.8 1072.5a5.7 5.7 0 1 0 11.4 0a5.7 5.7 0 1 0 -11.4 0zM2202.9 1055a5.7 5.7 0 1 0 11.4 0a5.7 5.7 0 1 0 -11.4 0zM2227.1 1090a5.7 5.7 0 1 0 11.4 0a5.7 5.7 0 1 0 -11.4 0zM2251.2 1113.3a5.7 5.7 0 1 0 11.4 0a5.7 5.7 0 1 0 -11.4 0zM2269.4 1113.3a5.7 5.7 0 1 0 11.4 0a5.7 5.7 0 1 0 -11.4 0zM2293.6 1113.3a5.7 5.7 0 1 0 11.4 0a5.7 5.7 0 1 0 -11.4 0z"/>
<path fill="#000000" d="M190.1 1142.8h11v11h-11zM214.3 1142.8h11v11h-11zM232.4 1148.6h11v11h-11zM256.6 1142.8h11v11h-11zM280.8 1125.3h11v11h-11zM298.9 1119.5h11v11h-11zM323.1 1131.1h11v11h-11zM341.2 1113.6h11v11h-11zM365.4 1113.6h11v11h-11zM389.6 1113.6h11v11h-11zM407.7 1113.6h11v11h-11zM431.9 1107.8h11v11h-11zM456.1 1107.8h11v11h-11zM474.2 1119.5h11v11h-11zM498.4 1107.8h11v11h-11zM516.5 1096.2h11v11h-11zM540.7 1096.2h11v11h-11zM564.9 1096.2h11v11h-11zM583 1096.2h11v11h-11zM607.2 1078.7h11v11h-11zM631.4 1078.7h11v11h-11zM649.5 1072.8h11v11h-11zM673.7 1072.8h11v11h-11zM691.8 1067h11v11h-11zM716 1055.4h11v11h-11zM740.2 1043.7h11v11h-11zM758.3 1037.9h11v11h-11zM782.5 1043.7h11v11h-11zM806.7 1043.7h11v11h-11zM824.8 1037.9h11v11h-11zM849 1026.2h11v11h-11zM867.1 1020.4h11v11h-11zM891.3 1026.2h11v11h-11zM915.5 1026.2h11v11h-11zM933.6 1026.2h11v11h-11zM957.8 1026.2h11v11h-11zM982 1014.6h11v11h-11zM1000.1 1008.7h11v11h-11zM1024.3 1008.7h11v11h-11zM1042.4 1002.9h11v11h-11zM1066.6 1002.9h11v11h-11zM1090.8 991.3h11v11h-11zM1108.9 985.4h11v11h-11zM1133.1 985.4h11v11h-11zM1157.3 979.6h11v11h-11zM1175.4 979.6h11v11h-11zM1199.6 962.1h11v11h-11zM1217.8 973.8h11v11h-11zM1241.9 979.6h11v11h-11zM1266.1 967.9h11v11h-11zM1284.2 956.3h11v11h-11zM1308.4 973.8h11v11h-11zM1332.6 985.4h11v11h-11zM1350.7 997.1h11v11h-11zM1374.9 997.1h11v11h-11zM1393.1 1008.7h11v11h-11zM1417.2 1014.6h11v11h-11zM1441.4 1008.7h11v11h-11zM1459.5 1014.6h11v11h-11zM1483.7 1008.7h11v11h-11zM1507.9 1020.4h11v11h-11zM1526 1014.6h11v11h-11zM1550.2 1020.4h11v11h-11zM1568.4 1037.9h11v11h-11zM1592.5 1043.7h11v11h-11zM1616.7 1049.5h11v11h-11zM1634.9 1049.5h11v11h-11zM1659 1061.2h11v11h-11zM1683.2 1067h11v11h-11zM1701.3 1072.8h11v11h-11zM1725.5 1072.8h11v11h-11zM1743.7 1072.8h11v11h-11zM1767.8 1067h11v11h-11zM1792 1078.7h11v11h-11zM1810.2 1072.8h11v11h-11zM1834.3 1067h11v11h-11zM1858.5 1037.9h11v11h-11zM1876.7 1049.5h11v11h-11zM1900.8 1084.5h11v11h-11zM1919 1078.7h11v11h-11zM1943.1 1049.5h11v11h-11zM1967.3 1061.2h11v11h-11zM1985.5 1067h11v11h-11zM2009.6 1084.5h11v11h-11zM2033.8 1090.3h11v11h-11zM2052 1090.3h11v11h-11zM2076.1 1078.7h11v11h-11zM2094.3 1090.3h11v11h-11zM2118.5 1090.3h11v11h-11zM2142.6 1084.5h11v11h-11zM2160.8 1078.7h11v11h-11zM2184.9 1072.8h11v11h-11zM2203.1 1055.4h11v11h-11zM2227.3 1090.3h11v11h-11zM2251.4 1113.6h11v11h-11zM2269.6 1113.6h11v11h-11zM2293.8 1113.6h11v11h-11z"/>
<path fill="#ff00ff" d="M188.8 1123.3v3.4l13.6 5.6v-14.6zM213 1117.4v3.4l13.6 5.6v-14.6zM231.1 1117.4v3.4l13.6 5.6v-14.6zM255.3 1117.4v3.4l13.6 5.6v-14.6zM279.5 1100v3.4l13.6 5.6v-14.6zM297.6 1088.3v3.4l13.6 5.6v-14.6zM321.8 1094.1v3.4l13.6 5.6v-14.6zM339.9 1082.5v3.4l13.6 5.6v-14.6zM364.1 1082.5v3.4l13.6 5.6v-14.6zM388.3 1088.3v3.4l13.6 5.6v-14.6zM406.4 1088.3v3.4l13.6 5.6v-14.6zM430.6 1082.5v3.4l13.6 5.6v-14.6zM454.8 1082.5v3.4l13.6 5.6v-14.6zM472.9 1088.3v3.4l13.6 5.6v-14.6zM497.1 1082.5v3.4l13.6 5.6v-14.6zM515.2 1070.8v3.4l13.6 5.6v-14.6zM539.4 1070.8v3.4l13.6 5.6v-14.6zM563.6 1065v3.4l13.6 5.6v-14.6zM581.7 1065v3.4l13.6 5.6v-14.6zM605.9 1053.3v3.4l13.6 5.6v-14.6zM630.1 1053.3v3.4l13.6 5.6v-14.6zM648.2 1041.7v3.4l13.6 5.6v-14.6zM672.4 1041.7v3.4l13.6 5.6v-14.6zM690.5 1035.9v3.4l13.6 5.6v-14.6zM714.7 1024.2v3.4l13.6 5.6v-14.6zM738.9 1012.5v3.4l13.6 5.6v-14.6zM757 1006.7v3.4l13.6 5.6v-14.6zM781.2 1012.5v3.4l13.6 5.6v-14.6zM805.4 1012.5v3.4l13.6 5.6v-14.6zM823.5 1000.9v3.4l13.6 5.6v-14.6zM847.7 983.4v3.4l13.6 5.6v-14.6zM865.8 977.6v3.4l13.6 5.6v-14.6zM890 977.6v3.4l13.6 5.6v-14.6zM914.2 971.7v3.4l13.6 5.6v-14.6zM932.3 971.7v3.4l13.6 5.6v-14.6zM956.5 971.7v3.4l13.6 5.6v-14.6zM980.7 960.1v3.4l13.6 5.6v-14.6zM998.8 954.3v3.4l13.6 5.6v-14.6zM1023 954.3v3.4l13.6 5.6v-14.6zM1041.1 948.4v3.4l13.6 5.6v-14.6zM1065.3 942.6v3.4l13.6 5.6v-14.6zM1089.5 942.6v3.4l13.6 5.6v-14.6zM1107.6 936.8v3.4l13.6 5.6v-14.6zM1131.8 936.8v3.4l13.6 5.6v-14.6zM1156 936.8v3.4l13.6 5.6v-14.6zM1174.1 942.6v3.4l13.6 5.6v-14.6zM1198.3 930.9v3.4l13.6 5.6v-14.6zM1216.5 942.6v3.4l13.6 5.6v-14.6zM1240.6 954.3v3.4l13.6 5.6v-14.6zM1264.8 948.4v3.4l13.6 5.6v-14.6zM1282.9 936.8v3.4l13.6 5.6v-14.6zM1307.1 954.3v3.4l13.6 5.6v-14.6zM1331.3 960.1v3.4l13.6 5.6v-14.6zM1349.4 983.4v3.4l13.6 5.6v-14.6zM1373.6 977.6v3.4l13.6 5.6v-14.6zM1391.8 995.1v3.4l13.6 5.6v-14.6zM1415.9 995.1v3.4l13.6 5.6v-14.6zM1440.1 1000.9v3.4l13.6 5.6v-14.6zM1458.2 1006.7v3.4l13.6 5.6v-14.6zM1482.4 1000.9v3.4l13.6 5.6v-14.6zM1506.6 1012.5v3.4l13.6 5.6v-14.6zM1524.7 1006.7v3.4l13.6 5.6v-14.6zM1548.9 1006.7v3.4l13.6 5.6v-14.6zM1567.1 1024.2v3.4l13.6 5.6v-14.6zM1591.2 1035.9v3.4l13.6 5.6v-14.6zM1615.4 1041.7v3.4l13.6 5.6v-14.6zM1633.6 1041.7v3.4l13.6 5.6v-14.6zM1657.7 1041.7v3.4l13.6 5.6v-14.6zM1681.9 1053.3v3.4l13.6 5.6v-14.6zM1700 1059.2v3.4l13.6 5.6v-14.6zM1724.2 1053.3v3.4l13.6 5.6v-14.6zM1742.4 1059.2v3.4l13.6 5.6v-14.6zM1766.5 1047.5v3.4l13.6 5.6v-14.6zM1790.7 1059.2v3.4l13.6 5.6v-14.6zM1808.9 1047.5v3.4l13.6 5.6v-14.6zM1833 1047.5v3.4l13.6 5.6v-14.6zM1857.2 1030v3.4l13.6 5.6v-14.6zM1875.4 1035.9v3.4l13.6 5.6v-14.6zM1899.5 1065v3.4l13.6 5.6v-14.6zM1917.7 1065v3.4l13.6 5.6v-14.6zM1941.8 1030v3.4l13.6 5.6v-14.6zM1966 1047.5v3.4l13.6 5.6v-14.6zM1984.2 1053.3v3.4l13.6 5.6v-14.6zM2008.3 1065v3.4l13.6 5.6v-14.6zM2032.5 1076.6v3.4l13.6 5.6v-14.6zM2050.7 1082.5v3.4l13.6 5.6v-14.6zM2074.8 1070.8v3.4l13.6 5.6v-14.6zM2093 1082.5v3.4l13.6 5.6v-14.6zM2117.2 1082.5v3.4l13.6 5.6v-14.6zM2141.3 1070.8v3.4l13.6 5.6v-14.6zM2159.5 1076.6v3.4l13.6 5.6v-14.6zM2183.6 1070.8v3.4l13.6 5.6v-14.6zM2201.8 1041.7v3.4l13.6 5.6v-14.6zM2226 1070.8v3.4l13.6 5.6v-14.6zM2250.1 1100v3.4l13.6 5.6v-14.6zM2268.3 1105.8v3.4l13.6 5.6v-14.6zM2292.5 1105.8v3.4l13.6 5.6v-14.6z"/>
<path fill="#00ffff" d="M188.3 1090a7.3 7.3 0 1 0 14.6 0a7.3 7.3 0 1 0 -14.6 0zM212.5 1090a7.3 7.3 0 1 0 14.6 0a7.3 7.3 0 1 0 -14.6 0zM230.6 1090a7.3 7.3 0 1 0 14.6 0a7.3 7.3 0 1 0 -14.6 0zM254.8 1084.2a7.3 7.3 0 1 0 14.6 0a7.3 7.3 0 1 0 -14.6 0zM279 1066.7a7.3 7.3 0 1 0 14.6 0a7.3 7.3 0 1 0 -14.6 0zM297.1 1066.7a7.3 7.3 0 1 0 14.6 0a7.3 7.3 0 1 0 -14.6 0zM321.3 1072.5a7.3 7.3 0 1 0 14.6 0a7.3 7.3 0 1 0 -14.6 0zM339.4 1043.4a7.3 7.3 0 1 0 14.6 0a7.3 7.3 0 1 0 -14.6 0zM363.6 1043.4a7.3 7.3 0 1 0 14.6 0a7.3 7.3 0 1 0 -14.6 0zM387.8 1055a7.3 7.3 0 1 0 14.6 0a7.3 7.3 0 1 0 -14.6 0zM405.9 1055a7.3 7.3 0 1 0 14.6 0a7.3 7.3 0 1 0 -14.6 0zM430.1 1049.2a7.3 7.3 0 1 0 14.6 0a7.3 7.3 0 1 0 -14.6 0zM454.3 1049.2a7.3 7.3 0 1 0 14.6 0a7.3 7.3 0 1 0 -14.6 0zM472.4 1049.2a7.3 7.3 0 1 0 14.6 0a7.3 7.3 0 1 0 -14.6 0zM496.6 1037.6a7.3 7.3 0 1 0 14.6 0a7.3 7.3 0 1 0 -14.6 0zM514.7 1031.7a7.3 7.3 0 1 0 14.6 0a7.3 7.3 0 1 0 -14.6 0zM538.9 1025.9a7.3 7.3 0 1 0 14.6 0a7.3 7.3 0 1 0 -14.6 0zM563.1 1020.1a7.3 7.3 0 1 0 14.6 0a7.3 7.3 0 1 0 -14.6 0zM581.2 1014.2a7.3 7.3 0 1 0 14.6 0a7.3 7.3 0 1 0 -14.6 0zM605.4 1008.4a7.3 7.3 0 1 0 14.6 0a7.3 7.3 0 1 0 -14.6 0zM629.6 1002.6a7.3 7.3 0 1 0 14.6 0a7.3 7.3 0 1 0 -14.6 0zM647.7 985.1a7.3 7.3 0 1 0 14.6 0a7.3 7.3 0 1 0 -14.6 0zM671.9 979.3a7.3 7.3 0 1 0 14.6 0a7.3 7.3 0 1 0 -14.6 0zM690 973.4a7.3 7.3 0 1 0 14.6 0a7.3 7.3 0 1 0 -14.6 0zM714.2 950.1a7.3 7.3 0 1 0 14.6 0a7.3 7.3 0 1 0 -14.6 0zM738.4 944.3a7.3 7.3 0 1 0 14.6 0a7.3 7.3 0 1 0 -14.6 0zM756.5 938.5a7.3 7.3 0 1 0 14.6 0a7.3 7.3 0 1 0 -14.6 0zM780.7 938.5a7.3 7.3 0 1 0 14.6 0a7.3 7.3 0 1 0 -14.6 0zM804.9 915.2a7.3 7.3 0 1 0 14.6 0a7.3 7.3 0 1 0 -14.6 0zM823 909.3a7.3 7.3 0 1 0 14.6 0a7.3 7.3 0 1 0 -14.6 0zM847.2 874.4a7.3 7.3 0 1 0 14.6 0a7.3 7.3 0 1 0 -14.6 0zM865.3 862.7a7.3 7.3 0 1 0 14.6 0a7.3 7.3 0 1 0 -14.6 0zM889.5 856.9a7.3 7.3 0 1 0 14.6 0a7.3 7.3 0 1 0 -14.6 0zM913.7 839.4a7.3 7.3 0 1 0 14.6 0a7.3 7.3 0 1 0 -14.6 0zM931.8 827.7a7.3 7.3 0 1 0 14.6 0a7.3 7.3 0 1 0 -14.6 0zM956 821.9a7.3 7.3 0 1 0 14.6 0a7.3 7.3 0 1 0 -14.6 0zM980.2 798.6a7.3 7.3 0 1 0 14.6 0a7.3 7.3 0 1 0 -14.6 0zM998.3 786.9a7.3 7.3 0 1 0 14.6 0a7.3 7.3 0 1 0 -14.6 0zM1022.5 775.3a7.3 7.3 0 1 0 14.6 0a7.3 7.3 0 1 0 -14.6 0zM1040.6 769.5a7.3 7.3 0 1 0 14.6 0a7.3 7.3 0 1 0 -14.6 0zM1064.8 757.8a7.3 7.3 0 1 0 14.6 0a7.3 7.3 0 1 0 -14.6 0zM1089 752a7.3 7.3 0 1 0 14.6 0a7.3 7.3 0 1 0 -14.6 0zM1107.1 746.2a7.3 7.3 0 1 0 14.6 0a7.3 7.3 0 1 0 -14.6 0zM1131.3 740.3a7.3 7.3 0 1 0 14.6 0a7.3 7.3 0 1 0 -14.6 0zM1155.5 740.3a7.3 7.3 0 1 0 14.6 0a7.3 7.3 0 1 0 -14.6 0zM1173.6 746.2a7.3 7.3 0 1 0 14.6 0a7.3 7.3 0 1 0 -14.6 0zM1197.8 752a7.3 7.3 0 1 0 14.6 0a7.3 7.3 0 1 0 -14.6 0zM1216 763.6a7.3 7.3 0 1 0 14.6 0a7.3 7.3 0 1 0 -14.6 0zM1240.1 781.1a7.3 7.3 0 1 0 14.6 0a7.3 7.3 0 1 0 -14.6 0zM1264.3 792.8a7.3 7.3 0 1 0 14.6 0a7.3 7.3 0 1 0 -14.6 0zM1282.4 798.6a7.3 7.3 0 1 0 14.6 0a7.3 7.3 0 1 0 -14.6 0zM1306.6 804.4a7.3 7.3 0 1 0 14.6 0a7.3 7.3 0 1 0 -14.6 0zM1330.8 827.7a7.3 7.3 0 1 0 14.6 0a7.3 7.3 0 1 0 -14.6 0zM1348.9 845.2a7.3 7.3 0 1 0 14.6 0a7.3 7.3 0 1 0 -14.6 0zM1373.1 845.2a7.3 7.3 0 1 0 14.6 0a7.3 7.3 0 1 0 -14.6 0zM1391.3 880.2a7.3 7.3 0 1 0 14.6 0a7.3 7.3 0 1 0 -14.6 0zM1415.4 891.9a7.3 7.3 0 1 0 14.6 0a7.3 7.3 0 1 0 -14.6 0zM1439.6 891.9a7.3 7.3 0 1 0 14.6 0a7.3 7.3 0 1 0 -14.6 0zM1457.8 909.3a7.3 7.3 0 1 0 14.6 0a7.3 7.3 0 1 0 -14.6 0zM1481.9 921a7.3 7.3 0 1 0 14.6 0a7.3 7.3 0 1 0 -14.6 0zM1506.1 944.3a7.3 7.3 0 1 0 14.6 0a7.3 7.3 0 1 0 -14.6 0zM1524.2 950.1a7.3 7.3 0 1 0 14.6 0a7.3 7.3 0 1 0 -14.6 0zM1548.4 956a7.3 7.3 0 1 0 14.6 0a7.3 7.3 0 1 0 -14.6 0zM1566.6 979.3a7.3 7.3 0 1 0 14.6 0a7.3 7.3 0 1 0 -14.6 0zM1590.7 996.8a7.3 7.3 0 1 0 14.6 0a7.3 7.3 0 1 0 -14.6 0zM1614.9 1002.6a7.3 7.3 0 1 0 14.6 0a7.3 7.3 0 1 0 -14.6 0zM1633.1 1008.4a7.3 7.3 0 1 0 14.6 0a7.3 7.3 0 1 0 -14.6 0zM1657.2 1008.4a7.3 7.3 0 1 0 14.6 0a7.3 7.3 0 1 0 -14.6 0zM1681.4 1020.1a7.3 7.3 0 1 0 14.6 0a7.3 7.3 0 1 0 -14.6 0zM1699.5 1025.9a7.3 7.3 0 1 0 14.6 0a7.3 7.3 0 1 0 -14.6 0zM1723.7 1025.9a7.3 7.3 0 1 0 14.6 0a7.3 7.3 0 1 0 -14.6 0zM1741.9 1020.1a7.3 7.3 0 1 0 14.6 0a7.3 7.3 0 1 0 -14.6 0zM1766 1014.2a7.3 7.3 0 1 0 14.6 0a7.3 7.3 0 1 0 -14.6 0zM1790.2 1025.9a7.3 7.3 0 1 0 14.6 0a7.3 7.3 0 1 0 -14.6 0zM1808.4 1014.2a7.3 7.3 0 1 0 14.6 0a7.3 7.3 0 1 0 -14.6 0zM1832.5 1014.2a7.3 7.3 0 1 0 14.6 0a7.3 7.3 0 1 0 -14.6 0zM1856.7 990.9a7.3 7.3 0 1 0 14.6 0a7.3 7.3 0 1 0 -14.6 0zM1874.9 996.8a7.3 7.3 0 1 0 14.6 0a7.3 7.3 0 1 0 -14.6 0zM1899 1037.6a7.3 7.3 0 1 0 14.6 0a7.3 7.3 0 1 0 -14.6 0zM1917.2 1037.6a7.3 7.3 0 1 0 14.6 0a7.3 7.3 0 1 0 -14.6 0zM1941.3 1043.4a7.3 7.3 0 1 0 14.6 0a7.3 7.3 0 1 0 -14.6 0zM1965.5 1031.7a7.3 7.3 0 1 0 14.6 0a7.3 7.3 0 1 0 -14.6 0zM1983.7 1031.7a7.3 7.3 0 1 0 14.6 0a7.3 7.3 0 1 0 -14.6 0zM2007.8 1031.7a7.3 7.3 0 1 0 14.6 0a7.3 7.3 0 1 0 -14.6 0zM2032 1060.9a7.3 7.3 0 1 0 14.6 0a7.3 7.3 0 1 0 -14.6 0zM2050.2 1072.5a7.3 7.3 0 1 0 14.6 0a7.3 7.3 0 1 0 -14.6 0zM2074.3 1055a7.3 7.3 0 1 0 14.6 0a7.3 7.3 0 1 0 -14.6 0zM2092.5 1078.3a7.3 7.3 0 1 0 14.6 0a7.3 7.3 0 1 0 -14.6 0zM2116.7 1049.2a7.3 7.3 0 1 0 14.6 0a7.3 7.3 0 1 0 -14.6 0zM2140.8 1066.7a7.3 7.3 0 1 0 14.6 0a7.3 7.3 0 1 0 -14.6 0zM2159 1060.9a7.3 7.3 0 1 0 14.6 0a7.3 7.3 0 1 0 -14.6 0zM2183.1 1037.6a7.3 7.3 0 1 0 14.6 0a7.3 7.3 0 1 0 -14.6 0zM2201.3 1031.7a7.3 7.3 0 1 0 14.6 0a7.3 7.3 0 1 0 -14.6 0zM2225.5 1055a7.3 7.3 0 1 0 14.6 0a7.3 7.3 0 1 0 -14.6 0zM2249.6 1078.3a7.3 7.3 0 1 0 14.6 0a7.3 7.3 0 1 0 -14.6 0zM2267.8 1095.8a7.3 7.3 0 1 0 14.6 0a7.3 7.3 0 1 0 -14.6 0zM2292 1095.8a7.3 7.3 0 1 0 14.6 0a7.3 7.3 0 1 0 -14.6 0z"/>
<path fill="#0000ff" d="M193.9 1126.9h3.4l5.6 -13.6h-14.6zM218.1 1121.1h3.4l5.6 -13.6h-14.6zM236.2 1132.8h3.4l5.6 -13.6h-14.6zM260.4 1115.3h3.4l5.6 -13.6h-14.6zM284.6 1103.6h3.4l5.6 -13.6h-14.6zM302.7 1086.1h3.4l5.6 -13.6h-14.6zM326.9 1092h3.4l5.6 -13.6h-14.6zM345 1080.3h3.4l5.6 -13.6h-14.6zM369.2 1080.3h3.4l5.6 -13.6h-14.6zM393.4 1080.3h3.4l5.6 -13.6h-14.6zM411.5 1080.3h3.4l5.6 -13.6h-14.6zM435.7 1062.8h3.4l5.6 -13.6h-14.6zM459.9 1062.8h3.4l5.6 -13.6h-14.6zM478 1062.8h3.4l5.6 -13.6h-14.6zM502.2 1051.2h3.4l5.6 -13.6h-14.6zM520.3 1045.4h3.4l5.6 -13.6h-14.6zM544.5 1039.5h3.4l5.6 -13.6h-14.6zM568.7 1033.7h3.4l5.6 -13.6h-14.6zM586.8 1027.9h3.4l5.6 -13.6h-14.6zM611 1022h3.4l5.6 -13.6h-14.6zM635.2 1016.2h3.4l5.6 -13.6h-14.6zM653.3 998.7h3.4l5.6 -13.6h-14.6zM677.5 992.9h3.4l5.6 -13.6h-14.6zM695.6 975.4h3.4l5.6 -13.6h-14.6zM719.8 963.8h3.4l5.6 -13.6h-14.6zM744 940.4h3.4l5.6 -13.6h-14.6zM762.1 940.4h3.4l5.6 -13.6h-14.6zM786.3 934.6h3.4l5.6 -13.6h-14.6zM810.5 899.7h3.4l5.6 -13.6h-14.6zM828.6 882.2h3.4l5.6 -13.6h-14.6zM852.8 829.7h3.4l5.6 -13.6h-14.6zM870.9 812.2h3.4l5.6 -13.6h-14.6zM895.1 788.9h3.4l5.6 -13.6h-14.6zM919.3 771.4h3.4l5.6 -13.6h-14.6zM937.4 742.3h3.4l5.6 -13.6h-14.6zM961.6 730.6h3.4l5.6 -13.6h-14.6zM985.8 678.2h3.4l5.6 -13.6h-14.6zM1003.9 660.7h3.4l5.6 -13.6h-14.6zM1028.1 643.2h3.4l5.6 -13.6h-14.6zM1046.2 614.1h3.4l5.6 -13.6h-14.6zM1070.4 596.6h3.4l5.6 -13.6h-14.6zM1094.6 573.3h3.4l5.6 -13.6h-14.6zM1112.7 561.6h3.4l5.6 -13.6h-14.6zM1136.9 561.6h3.4l5.6 -13.6h-14.6zM1161.1 555.8h3.4l5.6 -13.6h-14.6zM1179.2 561.6h3.4l5.6 -13.6h-14.6zM1203.4 532.5h3.4l5.6 -13.6h-14.6zM1221.5 561.6h3.4l5.6 -13.6h-14.6zM1245.7 561.6h3.4l5.6 -13.6h-14.6zM1269.9 579.1h3.4l5.6 -13.6h-14.6zM1288 573.3h3.4l5.6 -13.6h-14.6zM1312.2 596.6h3.4l5.6 -13.6h-14.6zM1336.4 643.2h3.4l5.6 -13.6h-14.6zM1354.5 660.7h3.4l5.6 -13.6h-14.6zM1378.7 660.7h3.4l5.6 -13.6h-14.6zM1396.9 724.8h3.4l5.6 -13.6h-14.6zM1421 736.5h3.4l5.6 -13.6h-14.6zM1445.2 765.6h3.4l5.6 -13.6h-14.6zM1463.3 777.3h3.4l5.6 -13.6h-14.6zM1487.5 806.4h3.4l5.6 -13.6h-14.6zM1511.7 853h3.4l5.6 -13.6h-14.6zM1529.8 864.7h3.4l5.6 -13.6h-14.6zM1554 899.7h3.4l5.6 -13.6h-14.6zM1572.2 940.4h3.4l5.6 -13.6h-14.6zM1596.3 952.1h3.4l5.6 -13.6h-14.6zM1620.5 981.2h3.4l5.6 -13.6h-14.6zM1638.7 975.4h3.4l5.6 -13.6h-14.6zM1662.8 987.1h3.4l5.6 -13.6h-14.6zM1687 1027.9h3.4l5.6 -13.6h-14.6zM1705.1 1027.9h3.4l5.6 -13.6h-14.6zM1729.3 1027.9h3.4l5.6 -13.6h-14.6zM1747.5 1027.9h3.4l5.6 -13.6h-14.6zM1771.6 1027.9h3.4l5.6 -13.6h-14.6zM1795.8 1045.4h3.4l5.6 -13.6h-14.6zM1814 1039.5h3.4l5.6 -13.6h-14.6zM1838.1 1027.9h3.4l5.6 -13.6h-14.6zM1862.3 1016.2h3.4l5.6 -13.6h-14.6zM1880.5 1033.7h3.4l5.6 -13.6h-14.6zM1904.6 1068.7h3.4l5.6 -13.6h-14.6zM1922.8 1051.2h3.4l5.6 -13.6h-14.6zM1946.9 1051.2h3.4l5.6 -13.6h-14.6zM1971.1 1068.7h3.4l5.6 -13.6h-14.6zM1989.3 1068.7h3.4l5.6 -13.6h-14.6zM2013.4 1086.1h3.4l5.6 -13.6h-14.6zM2037.6 1092h3.4l5.6 -13.6h-14.6zM2055.8 1086.1h3.4l5.6 -13.6h-14.6zM2079.9 1074.5h3.4l5.6 -13.6h-14.6zM2098.1 1097.8h3.4l5.6 -13.6h-14.6zM2122.3 1097.8h3.4l5.6 -13.6h-14.6zM2146.4 1092h3.4l5.6 -13.6h-14.6zM2164.6 1086.1h3.4l5.6 -13.6h-14.6zM2188.8 1080.3h3.4l5.6 -13.6h-14.6zM2206.9 1074.5h3.4l5.6 -13.6h-14.6zM2231.1 1115.3h3.4l5.6 -13.6h-14.6zM2255.2 1121.1h3.4l5.6 -13.6h-14.6zM2273.4 1109.5h3.4l5.6 -13.6h-14.6zM2297.6 1109.5h3.4l5.6 -13.6h-14.6z"/>
<path fill="#00ff00" d="M193.9 1106.5h3.4l5.6 13.6h-14.6zM218.1 1094.9h3.4l5.6 13.6h-14.6zM236.2 1106.5h3.4l5.6 13.6h-14.6zM260.4 1094.9h3.4l5.6 13.6h-14.6zM284.6 1077.4h3.4l5.6 13.6h-14.6zM302.7 1065.7h3.4l5.6 13.6h-14.6zM326.9 1071.5h3.4l5.6 13.6h-14.6zM345 1054.1h3.4l5.6 13.6h-14.6zM369.2 1054.1h3.4l5.6 13.6h-14.6zM393.4 1054.1h3.4l5.6 13.6h-14.6zM411.5 1054.1h3.4l5.6 13.6h-14.6zM435.7 1042.4h3.4l5.6 13.6h-14.6zM459.9 1042.4h3.4l5.6 13.6h-14.6zM478 1042.4h3.4l5.6 13.6h-14.6zM502.2 1030.8h3.4l5.6 13.6h-14.6zM520.3 1019.1h3.4l5.6 13.6h-14.6zM544.5 1019.1h3.4l5.6 13.6h-14.6zM568.7 1007.4h3.4l5.6 13.6h-14.6zM586.8 1007.4h3.4l5.6 13.6h-14.6zM611 995.8h3.4l5.6 13.6h-14.6zM635.2 990h3.4l5.6 13.6h-14.6zM653.3 966.6h3.4l5.6 13.6h-14.6zM677.5 960.8h3.4l5.6 13.6h-14.6zM695.6 949.2h3.4l5.6 13.6h-14.6zM719.8 925.8h3.4l5.6 13.6h-14.6zM744 902.5h3.4l5.6 13.6h-14.6zM762.1 896.7h3.4l5.6 13.6h-14.6zM786.3 896.7h3.4l5.6 13.6h-14.6zM810.5 861.7h3.4l5.6 13.6h-14.6zM828.6 838.4h3.4l5.6 13.6h-14.6zM852.8 780.1h3.4l5.6 13.6h-14.6zM870.9 756.8h3.4l5.6 13.6h-14.6zM895.1 721.9h3.4l5.6 13.6h-14.6zM919.3 692.7h3.4l5.6 13.6h-14.6zM937.4 663.6h3.4l5.6 13.6h-14.6zM961.6 646.1h3.4l5.6 13.6h-14.6zM985.8 599.5h3.4l5.6 13.6h-14.6zM1003.9 570.3h3.4l5.6 13.6h-14.6zM1028.1 541.2h3.4l5.6 13.6h-14.6zM1046.2 506.2h3.4l5.6 13.6h-14.6zM1070.4 477.1h3.4l5.6 13.6h-14.6zM1094.6 442.1h3.4l5.6 13.6h-14.6zM1112.7 418.8h3.4l5.6 13.6h-14.6zM1136.9 413h3.4l5.6 13.6h-14.6zM1161.1 395.5h3.4l5.6 13.6h-14.6zM1179.2 389.7h3.4l5.6 13.6h-14.6zM1203.4 354.7h3.4l5.6 13.6h-14.6zM1221.5 354.7h3.4l5.6 13.6h-14.6zM1245.7 360.5h3.4l5.6 13.6h-14.6zM1269.9 360.5h3.4l5.6 13.6h-14.6zM1288 354.7h3.4l5.6 13.6h-14.6zM1312.2 366.4h3.4l5.6 13.6h-14.6zM1336.4 413h3.4l5.6 13.6h-14.6zM1354.5 436.3h3.4l5.6 13.6h-14.6zM1378.7 436.3h3.4l5.6 13.6h-14.6zM1396.9 488.7h3.4l5.6 13.6h-14.6zM1421 517.9h3.4l5.6 13.6h-14.6zM1445.2 529.5h3.4l5.6 13.6h-14.6zM1463.3 529.5h3.4l5.6 13.6h-14.6zM1487.5 570.3h3.4l5.6 13.6h-14.6zM1511.7 617h3.4l5.6 13.6h-14.6zM1529.8 646.1h3.4l5.6 13.6h-14.6zM1554 686.9h3.4l5.6 13.6h-14.6zM1572.2 745.2h3.4l5.6 13.6h-14.6zM1596.3 786h3.4l5.6 13.6h-14.6zM1620.5 809.3h3.4l5.6 13.6h-14.6zM1638.7 826.8h3.4l5.6 13.6h-14.6zM1662.8 844.3h3.4l5.6 13.6h-14.6zM1687 896.7h3.4l5.6 13.6h-14.6zM1705.1 914.2h3.4l5.6 13.6h-14.6zM1729.3 925.8h3.4l5.6 13.6h-14.6zM1747.5 931.7h3.4l5.6 13.6h-14.6zM1771.6 937.5h3.4l5.6 13.6h-14.6zM1795.8 955h3.4l5.6 13.6h-14.6zM1814 972.5h3.4l5.6 13.6h-14.6zM1838.1 972.5h3.4l5.6 13.6h-14.6zM1862.3 943.3h3.4l5.6 13.6h-14.6zM1880.5 972.5h3.4l5.6 13.6h-14.6zM1904.6 1024.9h3.4l5.6 13.6h-14.6zM1922.8 1019.1h3.4l5.6 13.6h-14.6zM1946.9 995.8h3.4l5.6 13.6h-14.6zM1971.1 1030.8h3.4l5.6 13.6h-14.6zM1989.3 1024.9h3.4l5.6 13.6h-14.6zM2013.4 1036.6h3.4l5.6 13.6h-14.6zM2037.6 1054.1h3.4l5.6 13.6h-14.6zM2055.8 1059.9h3.4l5.6 13.6h-14.6zM2079.9 1042.4h3.4l5.6 13.6h-14.6zM2098.1 1065.7h3.4l5.6 13.6h-14.6zM2122.3 1071.5h3.4l5.6 13.6h-14.6zM2146.4 1059.9h3.4l5.6 13.6h-14.6zM2164.6 1059.9h3.4l5.6 13.6h-14.6zM2188.8 1059.9h3.4l5.6 13.6h-14.6zM2206.9 1024.9h3.4l5.6 13.6h-14.6zM2231.1 1071.5h3.4l5.6 13.6h-14.6zM2255.2 1094.9h3.4l5.6 13.6h-14.6zM2273.4 1089h3.4l5.6 13.6h-14.6zM2297.6 1089h3.4l5.6 13.6h-14.6z"/>
<path fill="#ff0000" d="M189.9 1107.5a5.7 5.7 0 1 0 11.4 0a5.7 5.7 0 1 0 -11.4 0zM214.1 1095.8a5.7 5.7 0 1 0 11.4 0a5.7 5.7 0 1 0 -11.4 0zM232.2 1107.5a5.7 5.7 0 1 0 11.4 0a5.7 5.7 0 1 0 -11.4 0zM256.4 1090a5.7 5.7 0 1 0 11.4 0a5.7 5.7 0 1 0 -11.4 0zM280.6 1072.5a5.7 5.7 0 1 0 11.4 0a5.7 5.7 0 1 0 -11.4 0zM298.7 1060.9a5.7 5.7 0 1 0 11.4 0a5.7 5.7 0 1 0 -11.4 0zM322.9 1066.7a5.7 5.7 0 1 0 11.4 0a5.7 5.7 0 1 0 -11.4 0zM341 1049.2a5.7 5.7 0 1 0 11.4 0a5.7 5.7 0 1 0 -11.4 0zM365.2 1049.2a5.7 5.7 0 1 0 11.4 0a5.7 5.7 0 1 0 -11.4 0zM389.4 1049.2a5.7 5.7 0 1 0 11.4 0a5.7 5.7 0 1 0 -11.4 0zM407.5 1049.2a5.7 5.7 0 1 0 11.4 0a5.7 5.7 0 1 0 -11.4 0zM431.7 1037.6a5.7 5.7 0 1 0 11.4 0a5.7 5.7 0 1 0 -11.4 0zM455.9 1037.6a5.7 5.7 0 1 0 11.4 0a5.7 5.7 0 1 0 -11.4 0zM474 1037.6a5.7 5.7 0 1 0 11.4 0a5.7 5.7 0 1 0 -11.4 0zM498.2 1025.9a5.7 5.7 0 1 0 11.4 0a5.7 5.7 0 1 0 -11.4 0zM516.3 1020.1a5.7 5.7 0 1 0 11.4 0a5.7 5.7 0 1 0 -11.4 0zM540.5 1014.2a5.7 5.7 0 1 0 11.4 0a5.7 5.7 0 1 0 -11.4 0zM564.7 1002.6a5.7 5.7 0 1 0 11.4 0a5.7 5.7 0 1 0 -11.4 0zM582.8 996.8a5.7 5.7 0 1 0 11.4 0a5.7 5.7 0 1 0 -11.4 0zM607 990.9a5.7 5.7 0 1 0 11.4 0a5.7 5.7 0 1 0 -11.4 0zM631.2 979.3a5.7 5.7 0 1 0 11.4 0a5.7 5.7 0 1 0 -11.4 0zM649.3 961.8a5.7 5.7 0 1 0 11.4 0a5.7 5.7 0 1 0 -11.4 0zM673.5 956a5.7 5.7 0 1 0 11.4 0a5.7 5.7 0 1 0 -11.4 0zM691.6 938.5a5.7 5.7 0 1 0 11.4 0a5.7 5.7 0 1 0 -11.4 0zM715.8 915.2a5.7 5.7 0 1 0 11.4 0a5.7 5.7 0 1 0 -11.4 0zM740 897.7a5.7 5.7 0 1 0 11.4 0a5.7 5.7 0 1 0 -11.4 0zM758.1 886a5.7 5.7 0 1 0 11.4 0a5.7 5.7 0 1 0 -11.4 0zM782.3 886a5.7 5.7 0 1 0 11.4 0a5.7 5.7 0 1 0 -11.4 0zM806.5 845.2a5.7 5.7 0 1 0 11.4 0a5.7 5.7 0 1 0 -11.4 0zM824.6 827.7a5.7 5.7 0 1 0 11.4 0a5.7 5.7 0 1 0 -11.4 0zM848.8 757.8a5.7 5.7 0 1 0 11.4 0a5.7 5.7 0 1 0 -11.4 0zM866.9 734.5a5.7 5.7 0 1 0 11.4 0a5.7 5.7 0 1 0 -11.4 0zM891.1 699.5a5.7 5.7 0 1 0 11.4 0a5.7 5.7 0 1 0 -11.4 0zM915.3 664.6a5.7 5.7 0 1 0 11.4 0a5.7 5.7 0 1 0 -11.4 0zM933.4 635.4a5.7 5.7 0 1 0 11.4 0a5.7 5.7 0 1 0 -11.4 0zM957.6 617.9a5.7 5.7 0 1 0 11.4 0a5.7 5.7 0 1 0 -11.4 0zM981.8 559.7a5.7 5.7 0 1 0 11.4 0a5.7 5.7 0 1 0 -11.4 0zM999.9 530.5a5.7 5.7 0 1 0 11.4 0a5.7 5.7 0 1 0 -11.4 0zM1024.1 501.4a5.7 5.7 0 1 0 11.4 0a5.7 5.7 0 1 0 -11.4 0zM1042.2 460.6a5.7 5.7 0 1 0 11.4 0a5.7 5.7 0 1 0 -11.4 0zM1066.4 425.6a5.7 5.7 0 1 0 11.4 0a5.7 5.7 0 1 0 -11.4 0zM1090.6 384.8a5.7 5.7 0 1 0 11.4 0a5.7 5.7 0 1 0 -11.4 0zM1108.7 355.7a5.7 5.7 0 1 0 11.4 0a5.7 5.7 0 1 0 -11.4 0zM1132.9 349.8a5.7 5.7 0 1 0 11.4 0a5.7 5.7 0 1 0 -11.4 0zM1157.1 314.9a5.7 5.7 0 1 0 11.4 0a5.7 5.7 0 1 0 -11.4 0zM1175.2 309.1a5.7 5.7 0 1 0 11.4 0a5.7 5.7 0 1 0 -11.4 0zM1199.4 274.1a5.7 5.7 0 1 0 11.4 0a5.7 5.7 0 1 0 -11.4 0zM1217.5 268.3a5.7 5.7 0 1 0 11.4 0a5.7 5.7 0 1 0 -11.4 0zM1241.7 274.1a5.7 5.7 0 1 0 11.4 0a5.7 5.7 0 1 0 -11.4 0zM1265.9 256.6a5.7 5.7 0 1 0 11.4 0a5.7 5.7 0 1 0 -11.4 0zM1284 256.6a5.7 5.7 0 1 0 11.4 0a5.7 5.7 0 1 0 -11.4 0zM1308.2 268.3a5.7 5.7 0 1 0 11.4 0a5.7 5.7 0 1 0 -11.4 0zM1332.4 297.4a5.7 5.7 0 1 0 11.4 0a5.7 5.7 0 1 0 -11.4 0zM1350.5 326.5a5.7 5.7 0 1 0 11.4 0a5.7 5.7 0 1 0 -11.4 0zM1374.7 332.4a5.7 5.7 0 1 0 11.4 0a5.7 5.7 0 1 0 -11.4 0zM1392.9 373.2a5.7 5.7 0 1 0 11.4 0a5.7 5.7 0 1 0 -11.4 0zM1417 408.1a5.7 5.7 0 1 0 11.4 0a5.7 5.7 0 1 0 -11.4 0zM1441.2 414a5.7 5.7 0 1 0 11.4 0a5.7 5.7 0 1 0 -11.4 0zM1459.3 425.6a5.7 5.7 0 1 0 11.4 0a5.7 5.7 0 1 0 -11.4 0zM1483.5 454.8a5.7 5.7 0 1 0 11.4 0a5.7 5.7 0 1 0 -11.4 0zM1507.7 507.2a5.7 5.7 0 1 0 11.4 0a5.7 5.7 0 1 0 -11.4 0zM1525.8 548a5.7 5.7 0 1 0 11.4 0a5.7 5.7 0 1 0 -11.4 0zM1550 588.8a5.7 5.7 0 1 0 11.4 0a5.7 5.7 0 1 0 -11.4 0zM1568.2 641.2a5.7 5.7 0 1 0 11.4 0a5.7 5.7 0 1 0 -11.4 0zM1592.3 693.7a5.7 5.7 0 1 0 11.4 0a5.7 5.7 0 1 0 -11.4 0zM1616.5 722.8a5.7 5.7 0 1 0 11.4 0a5.7 5.7 0 1 0 -11.4 0zM1634.7 752a5.7 5.7 0 1 0 11.4 0a5.7 5.7 0 1 0 -11.4 0zM1658.8 769.5a5.7 5.7 0 1 0 11.4 0a5.7 5.7 0 1 0 -11.4 0zM1683 821.9a5.7 5.7 0 1 0 11.4 0a5.7 5.7 0 1 0 -11.4 0zM1701.1 839.4a5.7 5.7 0 1 0 11.4 0a5.7 5.7 0 1 0 -11.4 0zM1725.3 874.4a5.7 5.7 0 1 0 11.4 0a5.7 5.7 0 1 0 -11.4 0zM1743.5 886a5.7 5.7 0 1 0 11.4 0a5.7 5.7 0 1 0 -11.4 0zM1767.6 897.7a5.7 5.7 0 1 0 11.4 0a5.7 5.7 0 1 0 -11.4 0zM1791.8 921a5.7 5.7 0 1 0 11.4 0a5.7 5.7 0 1 0 -11.4 0zM1810 944.3a5.7 5.7 0 1 0 11.4 0a5.7 5.7 0 1 0 -11.4 0zM1834.1 961.8a5.7 5.7 0 1 0 11.4 0a5.7 5.7 0 1 0 -11.4 0zM1858.3 921a5.7 5.7 0 1 0 11.4 0a5.7 5.7 0 1 0 -11.4 0zM1876.5 944.3a5.7 5.7 0 1 0 11.4 0a5.7 5.7 0 1 0 -11.4 0zM1900.6 1008.4a5.7 5.7 0 1 0 11.4 0a5.7 5.7 0 1 0 -11.4 0zM1918.8 1014.2a5.7 5.7 0 1 0 11.4 0a5.7 5.7 0 1 0 -11.4 0zM1942.9 990.9a5.7 5.7 0 1 0 11.4 0a5.7 5.7 0 1 0 -11.4 0zM1967.1 1020.1a5.7 5.7 0 1 0 11.4 0a5.7 5.7 0 1 0 -11.4 0zM1985.3 1020.1a5.7 5.7 0 1 0 11.4 0a5.7 5.7 0 1 0 -11.4 0zM2009.4 1031.7a5.7 5.7 0 1 0 11.4 0a5.7 5.7 0 1 0 -11.4 0zM2033.6 1055a5.7 5.7 0 1 0 11.4 0a5.7 5.7 0 1 0 -11.4 0zM2051.8 1055a5.7 5.7 0 1 0 11.4 0a5.7 5.7 0 1 0 -11.4 0zM2075.9 1043.4a5.7 5.7 0 1 0 11.4 0a5.7 5.7 0 1 0 -11.4 0zM2094.1 1060.9a5.7 5.7 0 1 0 11.4 0a5.7 5.7 0 1 0 -11.4 0zM2118.3 1066.7a5.7 5.7 0 1 0 11.4 0a5.7 5.7 0 1 0 -11.4 0zM2142.4 1060.9a5.7 5.7 0 1 0 11.4 0a5.7 5.7 0 1 0 -11.4 0zM2160.6 1055a5.7 5.7 0 1 0 11.4 0a5.7 5.7 0 1 0 -11.4 0zM2184.8 1055a5.7 5.7 0 1 0 11.4 0a5.7 5.7 0 1 0 -11.4 0zM2202.9 1037.6a5.7 5.7 0 1 0 11.4 0a5.7 5.7 0 1 0 -11.4 0zM2227.1 1066.7a5.7 5.7 0 1 0 11.4 0a5.7 5.7 0 1 0 -11.4 0zM2251.2 1107.5a5.7 5.7 0 1 0 11.4 0a5.7 5.7 0 1 0 -11.4 0zM2269.4 1090a5.7 5.7 0 1 0 11.4 0a5.7 5.7 0 1 0 -11.4 0zM2293.6 1084.2a5.7 5.7 0 1 0 11.4 0a5.7 5.7 0 1 0 -11.4 0z"/>
<path fill="#000000" d="M190.1 1102h11v11h-11zM214.3 1090.3h11v11h-11zM232.4 1102h11v11h-11zM256.6 1084.5h11v11h-11zM280.8 1067h11v11h-11zM298.9 1055.4h11v11h-11zM323.1 1061.2h11v11h-11zM341.2 1043.7h11v11h-11zM365.4 1043.7h11v11h-11zM389.6 1043.7h11v11h-11zM407.7 1037.9h11v11h-11zM431.9 1032.1h11v11h-11zM456.1 1032.1h11v11h-11zM474.2 1032.1h11v11h-11zM498.4 1014.6h11v11h-11zM516.5 1008.7h11v11h-11zM540.7 1008.7h11v11h-11zM564.9 997.1h11v11h-11zM583 991.3h11v11h-11zM607.2 979.6h11v11h-11zM631.4 967.9h11v11h-11zM649.5 950.5h11v11h-11zM673.7 944.6h11v11h-11zM691.8 921.3h11v11h-11zM716 903.8h11v11h-11zM740.2 880.5h11v11h-11zM758.3 874.7h11v11h-11zM782.5 863h11v11h-11zM806.7 822.2h11v11h-11zM824.8 798.9h11v11h-11zM849 734.8h11v11h-11zM867.1 705.7h11v11h-11zM891.3 664.9h11v11h-11zM915.5 635.7h11v11h-11zM933.6 600.8h11v11h-11zM957.8 577.5h11v11h-11zM982 513.4h11v11h-11zM1000.1 495.9h11v11h-11zM1024.3 455.1h11v11h-11zM1042.4 408.5h11v11h-11zM1066.6 373.5h11v11h-11zM1090.8 309.4h11v11h-11zM1108.9 280.2h11v11h-11zM1133.1 268.6h11v11h-11zM1157.3 233.6h11v11h-11zM1175.4 227.8h11v11h-11zM1199.6 181.2h11v11h-11zM1217.8 169.5h11v11h-11zM1241.9 169.5h11v11h-11zM1266.1 157.9h11v11h-11zM1284.2 146.2h11v11h-11zM1308.4 152h11v11h-11zM1332.6 192.8h11v11h-11zM1350.7 210.3h11v11h-11zM1374.9 216.1h11v11h-11zM1393.1 268.6h11v11h-11zM1417.2 291.9h11v11h-11zM1441.4 297.7h11v11h-11zM1459.5 297.7h11v11h-11zM1483.7 338.5h11v11h-11zM1507.9 402.6h11v11h-11zM1526 437.6h11v11h-11zM1550.2 484.2h11v11h-11zM1568.4 554.2h11v11h-11zM1592.5 600.8h11v11h-11zM1616.7 624.1h11v11h-11zM1634.9 664.9h11v11h-11zM1659 688.2h11v11h-11zM1683.2 746.5h11v11h-11zM1701.3 781.4h11v11h-11zM1725.5 804.8h11v11h-11zM1743.7 822.2h11v11h-11zM1767.8 851.4h11v11h-11zM1792 880.5h11v11h-11zM1810.2 909.7h11v11h-11zM1834.3 903.8h11v11h-11zM1858.5 880.5h11v11h-11zM1876.7 921.3h11v11h-11zM1900.8 967.9h11v11h-11zM1919 967.9h11v11h-11zM1943.1 967.9h11v11h-11zM1967.3 991.3h11v11h-11zM1985.5 985.4h11v11h-11zM2009.6 1014.6h11v11h-11zM2033.8 1026.2h11v11h-11zM2052 1037.9h11v11h-11zM2076.1 1026.2h11v11h-11zM2094.3 1043.7h11v11h-11zM2118.5 1049.5h11v11h-11zM2142.6 1043.7h11v11h-11zM2160.8 1037.9h11v11h-11zM2184.9 1037.9h11v11h-11zM2203.1 1014.6h11v11h-11zM2227.3 1078.7h11v11h-11zM2251.4 1084.5h11v11h-11zM2269.6 1067h11v11h-11zM2293.8 1067h11v11h-11z"/>
</g>
<g clip-path="url(#cb)">
<path fill="#808080" d="M194.6 1958.2h12.1v12.1h-12.1zM233.9 1958.2h12.1v12.1h-12.1zM273.2 1958.2h12.1v12.1h-12.1zM312.5 1958.2h12.1v12.1h-12.1zM351.7 1958.2h12.1v12.1h-12.1zM391 1958.2h12.1v12.1h-12.1zM430.3 1958.2h12.1v12.1h-12.1zM469.5 1958.2h12.1v12.1h-12.1zM508.8 1958.2h12.1v12.1h-12.1zM548.1 1958.2h12.1v12.1h-12.1zM587.4 1958.2h12.1v12.1h-12.1zM626.6 1958.2h12.1v12.1h-12.1zM665.9 1958.2h12.1v12.1h-12.1zM705.2 1958.2h12.1v12.1h-12.1zM744.4 1958.2h12.1v12.1h-12.1zM783.7 1958.2h12.1v12.1h-12.1zM823 1958.2h12.1v12.1h-12.1zM862.2 1958.2h12.1v12.1h-12.1zM901.5 1958.2h12.1v12.1h-12.1zM940.8 1958.2h12.1v12.1h-12.1zM980.1 1958.2h12.1v12.1h-12.1zM1019.3 1958.2h12.1v12.1h-12.1zM1058.6 1958.2h12.1v12.1h-12.1zM1097.9 1958.2h12.1v12.1h-12.1zM1137.1 1958.2h12.1v12.1h-12.1zM1176.4 1958.2h12.1v12.1h-12.1zM1215.7 1958.2h12.1v12.1h-12.1zM1254.9 1958.2h12.1v12.1h-12.1zM1294.2 1958.2h12.1v12.1h-12.1zM1333.5 1958.2h12.1v12.1h-12.1zM1372.8 1958.2h12.1v12.1h-12.1zM1412 1958.2h12.1v12.1h-12.1zM1451.3 1958.2h12.1v12.1h-12.1zM1490.6 1958.2h12.1v12.1h-12.1zM1529.8 1958.2h12.1v12.1h-12.1zM1569.1 1958.2h12.1v12.1h-12.1zM1608.4 1958.2h12.1v12.1h-12.1zM1647.6 1958.2h12.1v12.1h-12.1zM1686.9 1958.2h12.1v12.1h-12.1zM1726.2 1958.2h12.1v12.1h-12.1zM1765.5 1958.2h12.1v12.1h-12.1zM1804.7 1958.2h12.1v12.1h-12.1zM1844 1958.2h12.1v12.1h-12.1zM1883.3 1958.2h12.1v12.1h-12.1zM1922.5 1958.2h12.1v12.1h-12.1zM1961.8 1958.2h12.1v12.1h-12.1zM2001.1 1958.2h12.1v12.1h-12.1zM2040.3 1958.2h12.1v12.1h-12.1zM2079.6 1958.2h12.1v12.1h-12.1zM2118.9 1958.2h12.1v12.1h-12.1zM2158.2 1958.2h12.1v12.1h-12.1zM2197.4 1958.2h12.1v12.1h-12.1zM2236.7 1958.2h12.1v12.1h-12.1zM2276 1958.2h12.1v12.1h-12.1z"/>
<path fill="#ff0000" d="M194.4 1978.3a6.3 6.3 0 1 0 12.5 0a6.3 6.3 0 1 0 -12.5 0zM233.7 1978.3a6.3 6.3 0 1 0 12.5 0a6.3 6.3 0 1 0 -12.5 0zM273 1981.1a6.3 6.3 0 1 0 12.5 0a6.3 6.3 0 1 0 -12.5 0zM312.2 1979.7a6.3 6.3 0 1 0 12.5 0a6.3 6.3 0 1 0 -12.5 0zM351.5 1990.9a6.3 6.3 0 1 0 12.5 0a6.3 6.3 0 1 0 -12.5 0zM390.8 1972.7a6.3 6.3 0 1 0 12.5 0a6.3 6.3 0 1 0 -12.5 0zM430.1 1981.1a6.3 6.3 0 1 0 12.5 0a6.3 6.3 0 1 0 -12.5 0zM469.3 1975.5a6.3 6.3 0 1 0 12.5 0a6.3 6.3 0 1 0 -12.5 0zM508.6 1971.3a6.3 6.3 0 1 0 12.5 0a6.3 6.3 0 1 0 -12.5 0zM547.9 1993.7a6.3 6.3 0 1 0 12.5 0a6.3 6.3 0 1 0 -12.5 0zM587.1 1974.1a6.3 6.3 0 1 0 12.5 0a6.3 6.3 0 1 0 -12.5 0zM626.4 1982.5a6.3 6.3 0 1 0 12.5 0a6.3 6.3 0 1 0 -12.5 0zM665.7 1985.3a6.3 6.3 0 1 0 12.5 0a6.3 6.3 0 1 0 -12.5 0zM704.9 1974.1a6.3 6.3 0 1 0 12.5 0a6.3 6.3 0 1 0 -12.5 0zM744.2 1976.9a6.3 6.3 0 1 0 12.5 0a6.3 6.3 0 1 0 -12.5 0zM783.5 1975.5a6.3 6.3 0 1 0 12.5 0a6.3 6.3 0 1 0 -12.5 0zM822.8 1990.9a6.3 6.3 0 1 0 12.5 0a6.3 6.3 0 1 0 -12.5 0zM862 1990.9a6.3 6.3 0 1 0 12.5 0a6.3 6.3 0 1 0 -12.5 0zM901.3 1988.1a6.3 6.3 0 1 0 12.5 0a6.3 6.3 0 1 0 -12.5 0zM940.6 1986.7a6.3 6.3 0 1 0 12.5 0a6.3 6.3 0 1 0 -12.5 0zM979.8 1951.7a6.3 6.3 0 1 0 12.5 0a6.3 6.3 0 1 0 -12.5 0zM1019.1 1995.1a6.3 6.3 0 1 0 12.5 0a6.3 6.3 0 1 0 -12.5 0zM1058.4 2003.5a6.3 6.3 0 1 0 12.5 0a6.3 6.3 0 1 0 -12.5 0zM1097.6 1971.3a6.3 6.3 0 1 0 12.5 0a6.3 6.3 0 1 0 -12.5 0zM1136.9 1971.3a6.3 6.3 0 1 0 12.5 0a6.3 6.3 0 1 0 -12.5 0zM1176.2 1989.5a6.3 6.3 0 1 0 12.5 0a6.3 6.3 0 1 0 -12.5 0zM1215.5 1988.1a6.3 6.3 0 1 0 12.5 0a6.3 6.3 0 1 0 -12.5 0zM1254.7 1997.9a6.3 6.3 0 1 0 12.5 0a6.3 6.3 0 1 0 -12.5 0zM1294 1992.3a6.3 6.3 0 1 0 12.5 0a6.3 6.3 0 1 0 -12.5 0zM1333.3 1992.3a6.3 6.3 0 1 0 12.5 0a6.3 6.3 0 1 0 -12.5 0zM1372.5 1920.9a6.3 6.3 0 1 0 12.5 0a6.3 6.3 0 1 0 -12.5 0zM1411.8 2028.7a6.3 6.3 0 1 0 12.5 0a6.3 6.3 0 1 0 -12.5 0zM1451.1 1995.1a6.3 6.3 0 1 0 12.5 0a6.3 6.3 0 1 0 -12.5 0zM1490.3 1983.9a6.3 6.3 0 1 0 12.5 0a6.3 6.3 0 1 0 -12.5 0zM1529.6 1976.9a6.3 6.3 0 1 0 12.5 0a6.3 6.3 0 1 0 -12.5 0zM1568.9 1967.1a6.3 6.3 0 1 0 12.5 0a6.3 6.3 0 1 0 -12.5 0zM1608.2 1984.6a6.3 6.3 0 1 0 12.5 0a6.3 6.3 0 1 0 -12.5 0zM1647.4 2002.1a6.3 6.3 0 1 0 12.5 0a6.3 6.3 0 1 0 -12.5 0zM1686.7 2002.1a6.3 6.3 0 1 0 12.5 0a6.3 6.3 0 1 0 -12.5 0zM1726 2003.5a6.3 6.3 0 1 0 12.5 0a6.3 6.3 0 1 0 -12.5 0zM1765.2 1993.7a6.3 6.3 0 1 0 12.5 0a6.3 6.3 0 1 0 -12.5 0zM1804.5 1969.9a6.3 6.3 0 1 0 12.5 0a6.3 6.3 0 1 0 -12.5 0zM1843.8 1999.3a6.3 6.3 0 1 0 12.5 0a6.3 6.3 0 1 0 -12.5 0zM1883 2031.5a6.3 6.3 0 1 0 12.5 0a6.3 6.3 0 1 0 -12.5 0zM1922.3 2060.9a6.3 6.3 0 1 0 12.5 0a6.3 6.3 0 1 0 -12.5 0zM1961.6 2071.4a6.3 6.3 0 1 0 12.5 0a6.3 6.3 0 1 0 -12.5 0zM2000.9 1967.1a6.3 6.3 0 1 0 12.5 0a6.3 6.3 0 1 0 -12.5 0zM2040.1 1830.6a6.3 6.3 0 1 0 12.5 0a6.3 6.3 0 1 0 -12.5 0zM2079.4 1890.1a6.3 6.3 0 1 0 12.5 0a6.3 6.3 0 1 0 -12.5 0zM2118.7 1793.5a6.3 6.3 0 1 0 12.5 0a6.3 6.3 0 1 0 -12.5 0zM2157.9 1810.3a6.3 6.3 0 1 0 12.5 0a6.3 6.3 0 1 0 -12.5 0zM2197.2 1918.8a6.3 6.3 0 1 0 12.5 0a6.3 6.3 0 1 0 -12.5 0zM2236.5 1957.3a6.3 6.3 0 1 0 12.5 0a6.3 6.3 0 1 0 -12.5 0zM2275.7 1968.5a6.3 6.3 0 1 0 12.5 0a6.3 6.3 0 1 0 -12.5 0z"/>
<path fill="#00ffff" d="M198.7 2039.6h4l6.1 -14.2h-16.2zM238 2020h4l6.1 -14.2h-16.2zM277.2 2035.4h4l6.1 -14.2h-16.2zM316.5 2039.6h4l6.1 -14.2h-16.2zM355.8 2042.4h4l6.1 -14.2h-16.2zM395.1 2042.4h4l6.1 -14.2h-16.2zM434.3 2035.4h4l6.1 -14.2h-16.2zM473.6 2021.4h4l6.1 -14.2h-16.2zM512.9 2021.4h4l6.1 -14.2h-16.2zM552.1 2038.2h4l6.1 -14.2h-16.2zM591.4 2028.4h4l6.1 -14.2h-16.2zM630.7 2017.2h4l6.1 -14.2h-16.2zM669.9 2027h4l6.1 -14.2h-16.2zM709.2 2022.8h4l6.1 -14.2h-16.2zM748.5 2039.6h4l6.1 -14.2h-16.2zM787.8 2018.6h4l6.1 -14.2h-16.2zM827 2032.6h4l6.1 -14.2h-16.2zM866.3 2031.2h4l6.1 -14.2h-16.2zM905.6 2036.8h4l6.1 -14.2h-16.2zM944.8 2042.4h4l6.1 -14.2h-16.2zM984.1 1997.6h4l6.1 -14.2h-16.2zM1023.4 2036.8h4l6.1 -14.2h-16.2zM1062.6 2042.4h4l6.1 -14.2h-16.2zM1101.9 2014.4h4l6.1 -14.2h-16.2zM1141.2 2018.6h4l6.1 -14.2h-16.2zM1180.5 2049.4h4l6.1 -14.2h-16.2zM1219.7 2011.6h4l6.1 -14.2h-16.2zM1259 1996.2h4l6.1 -14.2h-16.2zM1298.3 2039.6h4l6.1 -14.2h-16.2zM1337.5 2012.3h4l6.1 -14.2h-16.2zM1376.8 1943h4l6.1 -14.2h-16.2zM1416.1 2098.4h4l6.1 -14.2h-16.2zM1455.3 2052.2h4l6.1 -14.2h-16.2zM1494.6 1957h4l6.1 -14.2h-16.2zM1533.9 1992h4l6.1 -14.2h-16.2zM1573.2 1987.8h4l6.1 -14.2h-16.2zM1612.4 2006h4l6.1 -14.2h-16.2zM1651.7 2007.4h4l6.1 -14.2h-16.2zM1691 2007.4h4l6.1 -14.2h-16.2zM1730.2 2006h4l6.1 -14.2h-16.2zM1769.5 1992h4l6.1 -14.2h-16.2zM1808.8 1956.3h4l6.1 -14.2h-16.2zM1848 1992h4l6.1 -14.2h-16.2zM1887.3 2021.4h4l6.1 -14.2h-16.2zM1926.6 2042.4h4l6.1 -14.2h-16.2zM1965.9 2090.7h4l6.1 -14.2h-16.2zM2005.1 1906.6h4l6.1 -14.2h-16.2zM2044.4 1885.6h4l6.1 -14.2h-16.2zM2083.7 1895.4h4l6.1 -14.2h-16.2zM2122.9 1786.2h4l6.1 -14.2h-16.2zM2162.2 1842.2h4l6.1 -14.2h-16.2zM2201.5 1910.1h4l6.1 -14.2h-16.2zM2240.7 1959.8h4l6.1 -14.2h-16.2zM2280 1972.4h4l6.1 -14.2h-16.2z"/>
<path fill="#0000ff" d="M198.7 2017.4h4l6.1 14.2h-16.2zM238 2023h4l6.1 14.2h-16.2zM277.2 2024.4h4l6.1 14.2h-16.2zM316.5 2011.8h4l6.1 14.2h-16.2zM355.8 2021.6h4l6.1 14.2h-16.2zM395.1 2016h4l6.1 14.2h-16.2zM434.3 2014.6h4l6.1 14.2h-16.2zM473.6 2020.2h4l6.1 14.2h-16.2zM512.9 2027.2h4l6.1 14.2h-16.2zM552.1 2037h4l6.1 14.2h-16.2zM591.4 2021.6h4l6.1 14.2h-16.2zM630.7 2041.2h4l6.1 14.2h-16.2zM669.9 2044h4l6.1 14.2h-16.2zM709.2 2049.6h4l6.1 14.2h-16.2zM748.5 2063.6h4l6.1 14.2h-16.2zM787.8 2031.4h4l6.1 14.2h-16.2zM827 2034.2h4l6.1 14.2h-16.2zM866.3 2056.6h4l6.1 14.2h-16.2zM905.6 2052.4h4l6.1 14.2h-16.2zM944.8 2055.2h4l6.1 14.2h-16.2zM984.1 2045.4h4l6.1 14.2h-16.2zM1023.4 2074.8h4l6.1 14.2h-16.2zM1062.6 2045.4h4l6.1 14.2h-16.2zM1101.9 2013.2h4l6.1 14.2h-16.2zM1141.2 1946h4l6.1 14.2h-16.2zM1180.5 1960h4l6.1 14.2h-16.2zM1219.7 2017.4h4l6.1 14.2h-16.2zM1259 1955.8h4l6.1 14.2h-16.2zM1298.3 1953h4l6.1 14.2h-16.2zM1337.5 1954.4h4l6.1 14.2h-16.2zM1376.8 1862h4l6.1 14.2h-16.2zM1416.1 1947.4h4l6.1 14.2h-16.2zM1455.3 1920.8h4l6.1 14.2h-16.2zM1494.6 1880.2h4l6.1 14.2h-16.2zM1533.9 1916.6h4l6.1 14.2h-16.2zM1573.2 1916.6h4l6.1 14.2h-16.2zM1612.4 1932.7h4l6.1 14.2h-16.2zM1651.7 1935.5h4l6.1 14.2h-16.2zM1691 1925h4l6.1 14.2h-16.2zM1730.2 1927.1h4l6.1 14.2h-16.2zM1769.5 1902.6h4l6.1 14.2h-16.2zM1808.8 1855h4l6.1 14.2h-16.2zM1848 1885.8h4l6.1 14.2h-16.2zM1887.3 1906.8h4l6.1 14.2h-16.2zM1926.6 1922.2h4l6.1 14.2h-16.2zM1965.9 1871.8h4l6.1 14.2h-16.2zM2005.1 1794.8h4l6.1 14.2h-16.2zM2044.4 1829.8h4l6.1 14.2h-16.2zM2083.7 2003.4h4l6.1 14.2h-16.2zM2122.9 1943.2h4l6.1 14.2h-16.2zM2162.2 1880.2h4l6.1 14.2h-16.2zM2201.5 1887.2h4l6.1 14.2h-16.2zM2240.7 1930.6h4l6.1 14.2h-16.2zM2280 1928.5h4l6.1 14.2h-16.2z"/>
<path fill="#808000" d="M194.4 2013.3a6.3 6.3 0 1 0 12.5 0a6.3 6.3 0 1 0 -12.5 0zM233.7 2006.3a6.3 6.3 0 1 0 12.5 0a6.3 6.3 0 1 0 -12.5 0zM273 2006.3a6.3 6.3 0 1 0 12.5 0a6.3 6.3 0 1 0 -12.5 0zM312.2 2025.9a6.3 6.3 0 1 0 12.5 0a6.3 6.3 0 1 0 -12.5 0zM351.5 2020.3a6.3 6.3 0 1 0 12.5 0a6.3 6.3 0 1 0 -12.5 0zM390.8 2010.5a6.3 6.3 0 1 0 12.5 0a6.3 6.3 0 1 0 -12.5 0zM430.1 2014.7a6.3 6.3 0 1 0 12.5 0a6.3 6.3 0 1 0 -12.5 0zM469.3 2006.3a6.3 6.3 0 1 0 12.5 0a6.3 6.3 0 1 0 -12.5 0zM508.6 2027.3a6.3 6.3 0 1 0 12.5 0a6.3 6.3 0 1 0 -12.5 0zM547.9 2023.1a6.3 6.3 0 1 0 12.5 0a6.3 6.3 0 1 0 -12.5 0zM587.1 2058.1a6.3 6.3 0 1 0 12.5 0a6.3 6.3 0 1 0 -12.5 0zM626.4 2034.3a6.3 6.3 0 1 0 12.5 0a6.3 6.3 0 1 0 -12.5 0zM665.7 2025.9a6.3 6.3 0 1 0 12.5 0a6.3 6.3 0 1 0 -12.5 0zM704.9 2045.5a6.3 6.3 0 1 0 12.5 0a6.3 6.3 0 1 0 -12.5 0zM744.2 2056.7a6.3 6.3 0 1 0 12.5 0a6.3 6.3 0 1 0 -12.5 0zM783.5 2034.3a6.3 6.3 0 1 0 12.5 0a6.3 6.3 0 1 0 -12.5 0zM822.8 2052.5a6.3 6.3 0 1 0 12.5 0a6.3 6.3 0 1 0 -12.5 0zM862 2048.3a6.3 6.3 0 1 0 12.5 0a6.3 6.3 0 1 0 -12.5 0zM901.3 2037.1a6.3 6.3 0 1 0 12.5 0a6.3 6.3 0 1 0 -12.5 0zM940.6 2046.9a6.3 6.3 0 1 0 12.5 0a6.3 6.3 0 1 0 -12.5 0zM979.8 2045.5a6.3 6.3 0 1 0 12.5 0a6.3 6.3 0 1 0 -12.5 0zM1019.1 2006.3a6.3 6.3 0 1 0 12.5 0a6.3 6.3 0 1 0 -12.5 0zM1058.4 2020.3a6.3 6.3 0 1 0 12.5 0a6.3 6.3 0 1 0 -12.5 0zM1097.6 2023.1a6.3 6.3 0 1 0 12.5 0a6.3 6.3 0 1 0 -12.5 0zM1136.9 1975.5a6.3 6.3 0 1 0 12.5 0a6.3 6.3 0 1 0 -12.5 0zM1176.2 1976.9a6.3 6.3 0 1 0 12.5 0a6.3 6.3 0 1 0 -12.5 0zM1215.5 2010.5a6.3 6.3 0 1 0 12.5 0a6.3 6.3 0 1 0 -12.5 0zM1254.7 1941.9a6.3 6.3 0 1 0 12.5 0a6.3 6.3 0 1 0 -12.5 0zM1294 1934.9a6.3 6.3 0 1 0 12.5 0a6.3 6.3 0 1 0 -12.5 0zM1333.3 1934.9a6.3 6.3 0 1 0 12.5 0a6.3 6.3 0 1 0 -12.5 0zM1372.5 1897.1a6.3 6.3 0 1 0 12.5 0a6.3 6.3 0 1 0 -12.5 0zM1411.8 1867.7a6.3 6.3 0 1 0 12.5 0a6.3 6.3 0 1 0 -12.5 0zM1451.1 1971.3a6.3 6.3 0 1 0 12.5 0a6.3 6.3 0 1 0 -12.5 0zM1490.3 1787.9a6.3 6.3 0 1 0 12.5 0a6.3 6.3 0 1 0 -12.5 0zM1529.6 1955.9a6.3 6.3 0 1 0 12.5 0a6.3 6.3 0 1 0 -12.5 0zM1568.9 1930.7a6.3 6.3 0 1 0 12.5 0a6.3 6.3 0 1 0 -12.5 0zM1608.2 1932.1a6.3 6.3 0 1 0 12.5 0a6.3 6.3 0 1 0 -12.5 0zM1647.4 1935.6a6.3 6.3 0 1 0 12.5 0a6.3 6.3 0 1 0 -12.5 0zM1686.7 1920.2a6.3 6.3 0 1 0 12.5 0a6.3 6.3 0 1 0 -12.5 0zM1726 1923.7a6.3 6.3 0 1 0 12.5 0a6.3 6.3 0 1 0 -12.5 0zM1765.2 1955.2a6.3 6.3 0 1 0 12.5 0a6.3 6.3 0 1 0 -12.5 0zM1804.5 1902.7a6.3 6.3 0 1 0 12.5 0a6.3 6.3 0 1 0 -12.5 0zM1843.8 1899.2a6.3 6.3 0 1 0 12.5 0a6.3 6.3 0 1 0 -12.5 0zM1883 1896.4a6.3 6.3 0 1 0 12.5 0a6.3 6.3 0 1 0 -12.5 0zM1922.3 1916.7a6.3 6.3 0 1 0 12.5 0a6.3 6.3 0 1 0 -12.5 0zM1961.6 1904.1a6.3 6.3 0 1 0 12.5 0a6.3 6.3 0 1 0 -12.5 0zM2000.9 1797a6.3 6.3 0 1 0 12.5 0a6.3 6.3 0 1 0 -12.5 0zM2040.1 1741.7a6.3 6.3 0 1 0 12.5 0a6.3 6.3 0 1 0 -12.5 0zM2079.4 1837.6a6.3 6.3 0 1 0 12.5 0a6.3 6.3 0 1 0 -12.5 0zM2118.7 1832a6.3 6.3 0 1 0 12.5 0a6.3 6.3 0 1 0 -12.5 0zM2157.9 1862.1a6.3 6.3 0 1 0 12.5 0a6.3 6.3 0 1 0 -12.5 0zM2197.2 1873.3a6.3 6.3 0 1 0 12.5 0a6.3 6.3 0 1 0 -12.5 0zM2236.5 1930.7a6.3 6.3 0 1 0 12.5 0a6.3 6.3 0 1 0 -12.5 0zM2275.7 1922.3a6.3 6.3 0 1 0 12.5 0a6.3 6.3 0 1 0 -12.5 0z"/>
<path fill="#000000" d="M194.6 2003h12.1v12.1h-12.1zM233.9 1998.8h12.1v12.1h-12.1zM273.2 1989h12.1v12.1h-12.1zM312.5 2008.7h12.1v12.1h-12.1zM351.7 2004.5h12.1v12.1h-12.1zM391 1996h12.1v12.1h-12.1zM430.3 2003h12.1v12.1h-12.1zM469.5 1989h12.1v12.1h-12.1zM508.8 2022.7h12.1v12.1h-12.1zM548.1 2014.2h12.1v12.1h-12.1zM587.4 2004.5h12.1v12.1h-12.1zM626.6 2014.2h12.1v12.1h-12.1zM665.9 2012.8h12.1v12.1h-12.1zM705.2 2000.2h12.1v12.1h-12.1zM744.4 2011.5h12.1v12.1h-12.1zM783.7 2021.2h12.1v12.1h-12.1zM823 2014.2h12.1v12.1h-12.1zM862.2 2049.2h12.1v12.1h-12.1zM901.5 2039.5h12.1v12.1h-12.1zM940.8 2033.8h12.1v12.1h-12.1zM980.1 2043.6h12.1v12.1h-12.1zM1019.3 2067.4h12.1v12.1h-12.1zM1058.6 2025.5h12.1v12.1h-12.1zM1097.9 1994.7h12.1v12.1h-12.1zM1137.1 1970.8h12.1v12.1h-12.1zM1176.4 1921.8h12.1v12.1h-12.1zM1215.7 1997.5h12.1v12.1h-12.1zM1254.9 1938.7h12.1v12.1h-12.1zM1294.2 1912h12.1v12.1h-12.1zM1333.5 1916.2h12.1v12.1h-12.1zM1372.8 1788.2h12.1v12.1h-12.1zM1412 1833.7h12.1v12.1h-12.1zM1451.3 1853.2h12.1v12.1h-12.1zM1490.6 1837.8h12.1v12.1h-12.1zM1529.8 1865.8h12.1v12.1h-12.1zM1569.1 1875.7h12.1v12.1h-12.1zM1608.4 1880.5h12.1v12.1h-12.1zM1647.6 1882.7h12.1v12.1h-12.1zM1686.9 1881.2h12.1v12.1h-12.1zM1726.2 1884h12.1v12.1h-12.1zM1765.5 1851.8h12.1v12.1h-12.1zM1804.7 1809.2h12.1v12.1h-12.1zM1844 1842h12.1v12.1h-12.1zM1883.3 1846.2h12.1v12.1h-12.1zM1922.5 1867.2h12.1v12.1h-12.1zM1961.8 1753.8h12.1v12.1h-12.1zM2001.1 1722.3h12.1v12.1h-12.1zM2040.3 1766.5h12.1v12.1h-12.1zM2079.6 2023.3h12.1v12.1h-12.1zM2118.9 1884.8h12.1v12.1h-12.1zM2158.2 1874.2h12.1v12.1h-12.1zM2197.4 1869.3h12.1v12.1h-12.1zM2236.7 1912.8h12.1v12.1h-12.1zM2276 1914.2h12.1v12.1h-12.1z"/>
<path fill="#ff00ff" d="M193.6 1983.3v4l14.2 6.1v-16.2zM232.9 1977.7v4l14.2 6.1v-16.2zM272.1 1972.1v4l14.2 6.1v-16.2zM311.4 1987.5v4l14.2 6.1v-16.2zM350.7 1995.9v4l14.2 6.1v-16.2zM389.9 1986.1v4l14.2 6.1v-16.2zM429.2 1983.3v4l14.2 6.1v-16.2zM468.5 1972.1v4l14.2 6.1v-16.2zM507.8 2005.7v4l14.2 6.1v-16.2zM547 2002.9v4l14.2 6.1v-16.2zM586.3 1983.3v4l14.2 6.1v-16.2zM625.6 1995.9v4l14.2 6.1v-16.2zM664.8 2002.9v4l14.2 6.1v-16.2zM704.1 1988.9v4l14.2 6.1v-16.2zM743.4 2019.7v4l14.2 6.1v-16.2zM782.6 2019.7v4l14.2 6.1v-16.2zM821.9 2014.1v4l14.2 6.1v-16.2zM861.2 2037.9v4l14.2 6.1v-16.2zM900.5 2019.7v4l14.2 6.1v-16.2zM939.7 2022.5v4l14.2 6.1v-16.2zM979 2026.7v4l14.2 6.1v-16.2zM1018.3 2046.3v4l14.2 6.1v-16.2zM1057.5 2023.9v4l14.2 6.1v-16.2zM1096.8 1972.1v4l14.2 6.1v-16.2zM1136.1 1958.1v4l14.2 6.1v-16.2zM1175.4 1907.7v4l14.2 6.1v-16.2zM1214.6 1959.5v4l14.2 6.1v-16.2zM1253.9 1882.5v4l14.2 6.1v-16.2zM1293.2 1872.7v4l14.2 6.1v-16.2zM1332.4 1878.3v4l14.2 6.1v-16.2zM1371.7 1739.7v4l14.2 6.1v-16.2zM1411 1819.5v4l14.2 6.1v-16.2zM1450.2 1822.3v4l14.2 6.1v-16.2zM1489.5 1791.5v4l14.2 6.1v-16.2zM1528.8 1843.3v4l14.2 6.1v-16.2zM1568.1 1834.9v4l14.2 6.1v-16.2zM1607.3 1857.3v4l14.2 6.1v-16.2zM1646.6 1865.7v4l14.2 6.1v-16.2zM1685.9 1861.5v4l14.2 6.1v-16.2zM1725.1 1874.1v4l14.2 6.1v-16.2zM1764.4 1837.7v4l14.2 6.1v-16.2zM1803.7 1797.1v4l14.2 6.1v-16.2zM1842.9 1818.1v4l14.2 6.1v-16.2zM1882.2 1831.4v4l14.2 6.1v-16.2zM1921.5 1839.1v4l14.2 6.1v-16.2zM1960.8 1760v4l14.2 6.1v-16.2zM2000 1701.2v4l14.2 6.1v-16.2zM2039.3 1755.8v4l14.2 6.1v-16.2zM2078.6 1984.7v4l14.2 6.1v-16.2zM2117.8 1883.2v4l14.2 6.1v-16.2zM2157.1 1866.4v4l14.2 6.1v-16.2zM2196.4 1864.3v4l14.2 6.1v-16.2zM2235.6 1902.8v4l14.2 6.1v-16.2zM2274.9 1902.8v4l14.2 6.1v-16.2z"/>
<path fill="#00ffff" d="M192.7 2034.3a8 8 0 1 0 16.1 0a8 8 0 1 0 -16.1 0zM231.9 2045.5a8 8 0 1 0 16.1 0a8 8 0 1 0 -16.1 0zM271.2 2024.5a8 8 0 1 0 16.1 0a8 8 0 1 0 -16.1 0zM310.5 2062.3a8 8 0 1 0 16.1 0a8 8 0 1 0 -16.1 0zM349.8 2065.1a8 8 0 1 0 16.1 0a8 8 0 1 0 -16.1 0zM389 2066.5a8 8 0 1 0 16.1 0a8 8 0 1 0 -16.1 0zM428.3 2041.3a8 8 0 1 0 16.1 0a8 8 0 1 0 -16.1 0zM467.6 2006.3a8 8 0 1 0 16.1 0a8 8 0 1 0 -16.1 0zM506.8 2034.3a8 8 0 1 0 16.1 0a8 8 0 1 0 -16.1 0zM546.1 2063.7a8 8 0 1 0 16.1 0a8 8 0 1 0 -16.1 0zM585.4 2069.3a8 8 0 1 0 16.1 0a8 8 0 1 0 -16.1 0zM624.6 2083.3a8 8 0 1 0 16.1 0a8 8 0 1 0 -16.1 0zM663.9 2080.5a8 8 0 1 0 16.1 0a8 8 0 1 0 -16.1 0zM703.2 2108.5a8 8 0 1 0 16.1 0a8 8 0 1 0 -16.1 0zM742.5 2123.9a8 8 0 1 0 16.1 0a8 8 0 1 0 -16.1 0zM781.7 2147.7a8 8 0 1 0 16.1 0a8 8 0 1 0 -16.1 0zM821 2156.1a8 8 0 1 0 16.1 0a8 8 0 1 0 -16.1 0zM860.3 2165.9a8 8 0 1 0 16.1 0a8 8 0 1 0 -16.1 0zM899.5 2087.5a8 8 0 1 0 16.1 0a8 8 0 1 0 -16.1 0zM938.8 2102.9a8 8 0 1 0 16.1 0a8 8 0 1 0 -16.1 0zM978.1 2167.3a8 8 0 1 0 16.1 0a8 8 0 1 0 -16.1 0zM1017.3 2121.1a8 8 0 1 0 16.1 0a8 8 0 1 0 -16.1 0zM1056.6 2069.3a8 8 0 1 0 16.1 0a8 8 0 1 0 -16.1 0zM1095.9 2006.3a8 8 0 1 0 16.1 0a8 8 0 1 0 -16.1 0zM1135.2 1918.1a8 8 0 1 0 16.1 0a8 8 0 1 0 -16.1 0zM1174.4 1867.7a8 8 0 1 0 16.1 0a8 8 0 1 0 -16.1 0zM1213.7 1910.4a8 8 0 1 0 16.1 0a8 8 0 1 0 -16.1 0zM1253 1910.4a8 8 0 1 0 16.1 0a8 8 0 1 0 -16.1 0zM1292.2 1818.7a8 8 0 1 0 16.1 0a8 8 0 1 0 -16.1 0zM1331.5 1853a8 8 0 1 0 16.1 0a8 8 0 1 0 -16.1 0zM1370.8 1727.7a8 8 0 1 0 16.1 0a8 8 0 1 0 -16.1 0zM1410 1797.7a8 8 0 1 0 16.1 0a8 8 0 1 0 -16.1 0zM1449.3 1796.3a8 8 0 1 0 16.1 0a8 8 0 1 0 -16.1 0zM1488.6 1801.9a8 8 0 1 0 16.1 0a8 8 0 1 0 -16.1 0zM1527.9 1842.5a8 8 0 1 0 16.1 0a8 8 0 1 0 -16.1 0zM1567.1 1846.7a8 8 0 1 0 16.1 0a8 8 0 1 0 -16.1 0zM1606.4 1868.4a8 8 0 1 0 16.1 0a8 8 0 1 0 -16.1 0zM1645.7 1877.5a8 8 0 1 0 16.1 0a8 8 0 1 0 -16.1 0zM1684.9 1885.9a8 8 0 1 0 16.1 0a8 8 0 1 0 -16.1 0zM1724.2 1888.7a8 8 0 1 0 16.1 0a8 8 0 1 0 -16.1 0zM1763.5 1871.9a8 8 0 1 0 16.1 0a8 8 0 1 0 -16.1 0zM1802.7 1839.7a8 8 0 1 0 16.1 0a8 8 0 1 0 -16.1 0zM1842 1863.5a8 8 0 1 0 16.1 0a8 8 0 1 0 -16.1 0zM1881.3 1857.9a8 8 0 1 0 16.1 0a8 8 0 1 0 -16.1 0zM1920.6 1870.5a8 8 0 1 0 16.1 0a8 8 0 1 0 -16.1 0zM1959.8 1757.1a8 8 0 1 0 16.1 0a8 8 0 1 0 -16.1 0zM1999.1 1750.8a8 8 0 1 0 16.1 0a8 8 0 1 0 -16.1 0zM2038.4 1806.1a8 8 0 1 0 16.1 0a8 8 0 1 0 -16.1 0zM2077.6 2062.3a8 8 0 1 0 16.1 0a8 8 0 1 0 -16.1 0zM2116.9 1977.6a8 8 0 1 0 16.1 0a8 8 0 1 0 -16.1 0zM2156.2 1938.4a8 8 0 1 0 16.1 0a8 8 0 1 0 -16.1 0zM2195.4 1936.3a8 8 0 1 0 16.1 0a8 8 0 1 0 -16.1 0zM2234.7 1969.9a8 8 0 1 0 16.1 0a8 8 0 1 0 -16.1 0zM2274 1966.4a8 8 0 1 0 16.1 0a8 8 0 1 0 -16.1 0z"/>
<path fill="#0000ff" d="M198.7 2032.6h4l6.1 -14.2h-16.2zM238 2029.8h4l6.1 -14.2h-16.2zM277.2 2045.2h4l6.1 -14.2h-16.2zM316.5 2045.2h4l6.1 -14.2h-16.2zM355.8 2067.6h4l6.1 -14.2h-16.2zM395.1 2062h4l6.1 -14.2h-16.2zM434.3 2063.4h4l6.1 -14.2h-16.2zM473.6 2041h4l6.1 -14.2h-16.2zM512.9 2069h4l6.1 -14.2h-16.2zM552.1 2127.8h4l6.1 -14.2h-16.2zM591.4 2101.2h4l6.1 -14.2h-16.2zM630.7 2134.8h4l6.1 -14.2h-16.2zM669.9 2151.6h4l6.1 -14.2h-16.2zM709.2 2171.2h4l6.1 -14.2h-16.2zM748.5 2192.2h4l6.1 -14.2h-16.2zM787.8 2270.6h4l6.1 -14.2h-16.2zM827 2216h4l6.1 -14.2h-16.2zM866.3 2262.2h4l6.1 -14.2h-16.2zM905.6 2200.6h4l6.1 -14.2h-16.2zM944.8 2239.8h4l6.1 -14.2h-16.2zM984.1 2283.2h4l6.1 -14.2h-16.2zM1023.4 2189.4h4l6.1 -14.2h-16.2zM1062.6 2123.6h4l6.1 -14.2h-16.2zM1101.9 2049.4h4l6.1 -14.2h-16.2zM1141.2 1957h4l6.1 -14.2h-16.2zM1180.5 1927.6h4l6.1 -14.2h-16.2zM1219.7 1933.2h4l6.1 -14.2h-16.2zM1259 1944.4h4l6.1 -14.2h-16.2zM1298.3 1806.5h4l6.1 -14.2h-16.2zM1337.5 1875.1h4l6.1 -14.2h-16.2zM1376.8 1742.8h4l6.1 -14.2h-16.2zM1416.1 1822.6h4l6.1 -14.2h-16.2zM1455.3 1789h4l6.1 -14.2h-16.2zM1494.6 1775h4l6.1 -14.2h-16.2zM1533.9 1804.4h4l6.1 -14.2h-16.2zM1573.2 1777.1h4l6.1 -14.2h-16.2zM1612.4 1818.4h4l6.1 -14.2h-16.2zM1651.7 1810h4l6.1 -14.2h-16.2zM1691 1815.6h4l6.1 -14.2h-16.2zM1730.2 1798.8h4l6.1 -14.2h-16.2zM1769.5 1780.6h4l6.1 -14.2h-16.2zM1808.8 1761h4l6.1 -14.2h-16.2zM1848 1780.6h4l6.1 -14.2h-16.2zM1887.3 1794.6h4l6.1 -14.2h-16.2zM1926.6 1810h4l6.1 -14.2h-16.2zM1965.9 1705.7h4l6.1 -14.2h-16.2zM2005.1 1724.6h4l6.1 -14.2h-16.2zM2044.4 1773.6h4l6.1 -14.2h-16.2zM2083.7 2006h4l6.1 -14.2h-16.2zM2122.9 1955.6h4l6.1 -14.2h-16.2zM2162.2 1890.5h4l6.1 -14.2h-16.2zM2201.5 1897.5h4l6.1 -14.2h-16.2zM2240.7 1935.3h4l6.1 -14.2h-16.2zM2280 1921.3h4l6.1 -14.2h-16.2z"/>
<path fill="#00ff00" d="M198.7 2001.8h4l6.1 -14.2h-16.2zM238 2007.4h4l6.1 -14.2h-16.2zM277.2 2017.2h4l6.1 -14.2h-16.2zM316.5 2006h4l6.1 -14.2h-16.2zM355.8 2035.4h4l6.1 -14.2h-16.2zM395.1 2034h4l6.1 -14.2h-16.2zM434.3 2036.8h4l6.1 -14.2h-16.2zM473.6 2018.6h4l6.1 -14.2h-16.2zM512.9 2053.6h4l6.1 -14.2h-16.2zM552.1 2137.6h4l6.1 -14.2h-16.2zM591.4 2134.8h4l6.1 -14.2h-16.2zM630.7 2174h4l6.1 -14.2h-16.2zM669.9 2179.6h4l6.1 -14.2h-16.2zM709.2 2227.2h4l6.1 -14.2h-16.2zM748.5 2230h4l6.1 -14.2h-16.2zM787.8 2305.6h4l6.1 -14.2h-16.2zM827 2272h4l6.1 -14.2h-16.2zM866.3 2321h4l6.1 -14.2h-16.2zM905.6 2260.8h4l6.1 -14.2h-16.2zM944.8 2269.2h4l6.1 -14.2h-16.2zM984.1 2321h4l6.1 -14.2h-16.2zM1023.4 2246.8h4l6.1 -14.2h-16.2zM1062.6 2189.4h4l6.1 -14.2h-16.2zM1101.9 2088.6h4l6.1 -14.2h-16.2zM1141.2 1994.8h4l6.1 -14.2h-16.2zM1180.5 1908h4l6.1 -14.2h-16.2zM1219.7 1899.6h4l6.1 -14.2h-16.2zM1259 1929h4l6.1 -14.2h-16.2zM1298.3 1752.6h4l6.1 -14.2h-16.2zM1337.5 1829.6h4l6.1 -14.2h-16.2zM1376.8 1657.4h4l6.1 -14.2h-16.2zM1416.1 1698h4l6.1 -14.2h-16.2zM1455.3 1657.4h4l6.1 -14.2h-16.2zM1494.6 1614h4l6.1 -14.2h-16.2zM1533.9 1632.2h4l6.1 -14.2h-16.2zM1573.2 1590.9h4l6.1 -14.2h-16.2zM1612.4 1649h4l6.1 -14.2h-16.2zM1651.7 1636.4h4l6.1 -14.2h-16.2zM1691 1640.6h4l6.1 -14.2h-16.2zM1730.2 1609.8h4l6.1 -14.2h-16.2zM1769.5 1608.4h4l6.1 -14.2h-16.2zM1808.8 1580.4h4l6.1 -14.2h-16.2zM1848 1639.2h4l6.1 -14.2h-16.2zM1887.3 1677h4l6.1 -14.2h-16.2zM1926.6 1701.5h4l6.1 -14.2h-16.2zM1965.9 1637.8h4l6.1 -14.2h-16.2zM2005.1 1641.3h4l6.1 -14.2h-16.2zM2044.4 1686.8h4l6.1 -14.2h-16.2zM2083.7 1881.4h4l6.1 -14.2h-16.2zM2122.9 1864.6h4l6.1 -14.2h-16.2zM2162.2 1822.6h4l6.1 -14.2h-16.2zM2201.5 1842.2h4l6.1 -14.2h-16.2zM2240.7 1873h4l6.1 -14.2h-16.2zM2280 1881.4h4l6.1 -14.2h-16.2z"/>
<path fill="#ff0000" d="M194.4 1982.5a6.3 6.3 0 1 0 12.5 0a6.3 6.3 0 1 0 -12.5 0zM233.7 1989.5a6.3 6.3 0 1 0 12.5 0a6.3 6.3 0 1 0 -12.5 0zM273 1982.5a6.3 6.3 0 1 0 12.5 0a6.3 6.3 0 1 0 -12.5 0zM312.2 2007.7a6.3 6.3 0 1 0 12.5 0a6.3 6.3 0 1 0 -12.5 0zM351.5 2011.9a6.3 6.3 0 1 0 12.5 0a6.3 6.3 0 1 0 -12.5 0zM390.8 2037.1a6.3 6.3 0 1 0 12.5 0a6.3 6.3 0 1 0 -12.5 0zM430.1 2032.9a6.3 6.3 0 1 0 12.5 0a6.3 6.3 0 1 0 -12.5 0zM469.3 2018.9a6.3 6.3 0 1 0 12.5 0a6.3 6.3 0 1 0 -12.5 0zM508.6 2046.9a6.3 6.3 0 1 0 12.5 0a6.3 6.3 0 1 0 -12.5 0zM547.9 2130.9a6.3 6.3 0 1 0 12.5 0a6.3 6.3 0 1 0 -12.5 0zM587.1 2136.5a6.3 6.3 0 1 0 12.5 0a6.3 6.3 0 1 0 -12.5 0zM626.4 2175.7a6.3 6.3 0 1 0 12.5 0a6.3 6.3 0 1 0 -12.5 0zM665.7 2163.1a6.3 6.3 0 1 0 12.5 0a6.3 6.3 0 1 0 -12.5 0zM704.9 2209.3a6.3 6.3 0 1 0 12.5 0a6.3 6.3 0 1 0 -12.5 0zM744.2 2231.7a6.3 6.3 0 1 0 12.5 0a6.3 6.3 0 1 0 -12.5 0zM783.5 2261.1a6.3 6.3 0 1 0 12.5 0a6.3 6.3 0 1 0 -12.5 0zM822.8 2283.5a6.3 6.3 0 1 0 12.5 0a6.3 6.3 0 1 0 -12.5 0zM862 2277.9a6.3 6.3 0 1 0 12.5 0a6.3 6.3 0 1 0 -12.5 0zM901.3 2242.9a6.3 6.3 0 1 0 12.5 0a6.3 6.3 0 1 0 -12.5 0zM940.6 2308.7a6.3 6.3 0 1 0 12.5 0a6.3 6.3 0 1 0 -12.5 0zM979.8 2338.1a6.3 6.3 0 1 0 12.5 0a6.3 6.3 0 1 0 -12.5 0zM1019.1 2230.3a6.3 6.3 0 1 0 12.5 0a6.3 6.3 0 1 0 -12.5 0zM1058.4 2116.9a6.3 6.3 0 1 0 12.5 0a6.3 6.3 0 1 0 -12.5 0zM1097.6 2094.5a6.3 6.3 0 1 0 12.5 0a6.3 6.3 0 1 0 -12.5 0zM1136.9 1960.1a6.3 6.3 0 1 0 12.5 0a6.3 6.3 0 1 0 -12.5 0zM1176.2 1859.3a6.3 6.3 0 1 0 12.5 0a6.3 6.3 0 1 0 -12.5 0zM1215.5 1859.3a6.3 6.3 0 1 0 12.5 0a6.3 6.3 0 1 0 -12.5 0zM1254.7 1857.2a6.3 6.3 0 1 0 12.5 0a6.3 6.3 0 1 0 -12.5 0zM1294 1675.9a6.3 6.3 0 1 0 12.5 0a6.3 6.3 0 1 0 -12.5 0zM1333.3 1751.5a6.3 6.3 0 1 0 12.5 0a6.3 6.3 0 1 0 -12.5 0zM1372.5 1568.1a6.3 6.3 0 1 0 12.5 0a6.3 6.3 0 1 0 -12.5 0zM1411.8 1592.6a6.3 6.3 0 1 0 12.5 0a6.3 6.3 0 1 0 -12.5 0zM1451.1 1536.6a6.3 6.3 0 1 0 12.5 0a6.3 6.3 0 1 0 -12.5 0zM1490.3 1485.5a6.3 6.3 0 1 0 12.5 0a6.3 6.3 0 1 0 -12.5 0zM1529.6 1513.5a6.3 6.3 0 1 0 12.5 0a6.3 6.3 0 1 0 -12.5 0zM1568.9 1514.9a6.3 6.3 0 1 0 12.5 0a6.3 6.3 0 1 0 -12.5 0zM1608.2 1500.9a6.3 6.3 0 1 0 12.5 0a6.3 6.3 0 1 0 -12.5 0zM1647.4 1475.7a6.3 6.3 0 1 0 12.5 0a6.3 6.3 0 1 0 -12.5 0zM1686.7 1491.1a6.3 6.3 0 1 0 12.5 0a6.3 6.3 0 1 0 -12.5 0zM1726 1472.9a6.3 6.3 0 1 0 12.5 0a6.3 6.3 0 1 0 -12.5 0zM1765.2 1464.5a6.3 6.3 0 1 0 12.5 0a6.3 6.3 0 1 0 -12.5 0zM1804.5 1460.3a6.3 6.3 0 1 0 12.5 0a6.3 6.3 0 1 0 -12.5 0zM1843.8 1542.9a6.3 6.3 0 1 0 12.5 0a6.3 6.3 0 1 0 -12.5 0zM1883 1596.1a6.3 6.3 0 1 0 12.5 0a6.3 6.3 0 1 0 -12.5 0zM1922.3 1643.7a6.3 6.3 0 1 0 12.5 0a6.3 6.3 0 1 0 -12.5 0zM1961.6 1575.1a6.3 6.3 0 1 0 12.5 0a6.3 6.3 0 1 0 -12.5 0zM2000.9 1608a6.3 6.3 0 1 0 12.5 0a6.3 6.3 0 1 0 -12.5 0zM2040.1 1636a6.3 6.3 0 1 0 12.5 0a6.3 6.3 0 1 0 -12.5 0zM2079.4 1881.7a6.3 6.3 0 1 0 12.5 0a6.3 6.3 0 1 0 -12.5 0zM2118.7 1785.1a6.3 6.3 0 1 0 12.5 0a6.3 6.3 0 1 0 -12.5 0zM2157.9 1804.7a6.3 6.3 0 1 0 12.5 0a6.3 6.3 0 1 0 -12.5 0zM2197.2 1813.1a6.3 6.3 0 1 0 12.5 0a6.3 6.3 0 1 0 -12.5 0zM2236.5 1874a6.3 6.3 0 1 0 12.5 0a6.3 6.3 0 1 0 -12.5 0zM2275.7 1864.9a6.3 6.3 0 1 0 12.5 0a6.3 6.3 0 1 0 -12.5 0z"/>
<path fill="#000000" d="M194.6 2001.7h12.1v12.1h-12.1zM233.9 1996h12.1v12.1h-12.1zM273.2 1986.2h12.1v12.1h-12.1zM312.5 2057.6h12.1v12.1h-12.1zM351.7 2045h12.1v12.1h-12.1zM391 2011.5h12.1v12.1h-12.1zM430.3 2040.8h12.1v12.1h-12.1zM469.5 2046.5h12.1v12.1h-12.1zM508.8 2052h12.1v12.1h-12.1zM548.1 2136h12.1v12.1h-12.1zM587.4 2061.8h12.1v12.1h-12.1zM626.6 2148.6h12.1v12.1h-12.1zM665.9 2208.8h12.1v12.1h-12.1zM705.2 2253.6h12.1v12.1h-12.1zM744.4 2246.6h12.1v12.1h-12.1zM783.7 2280.2h12.1v12.1h-12.1zM823 2257.8h12.1v12.1h-12.1zM862.2 2220h12.1v12.1h-12.1zM901.5 2257.8h12.1v12.1h-12.1zM940.8 2214.4h12.1v12.1h-12.1zM980.1 2193.4h12.1v12.1h-12.1zM1019.3 2168.2h12.1v12.1h-12.1zM1058.6 2106.6h12.1v12.1h-12.1zM1097.9 1991.8h12.1v12.1h-12.1zM1137.1 1927.5h12.1v12.1h-12.1zM1176.4 1903.7h12.1v12.1h-12.1zM1215.7 1844.8h12.1v12.1h-12.1zM1254.9 1755.2h12.1v12.1h-12.1zM1294.2 1669.8h12.1v12.1h-12.1zM1333.5 1590h12.1v12.1h-12.1zM1372.8 1588.7h12.1v12.1h-12.1zM1412 1506h12.1v12.1h-12.1zM1451.3 1503.2h12.1v12.1h-12.1zM1490.6 1439.5h12.1v12.1h-12.1zM1529.8 1569.8h12.1v12.1h-12.1zM1569.1 1504h12.1v12.1h-12.1zM1608.4 1502.5h12.1v12.1h-12.1zM1647.6 1476.7h12.1v12.1h-12.1zM1686.9 1527h12.1v12.1h-12.1zM1726.2 1457h12.1v12.1h-12.1zM1765.5 1569.8h12.1v12.1h-12.1zM1804.7 1497.7h12.1v12.1h-12.1zM1844 1548h12.1v12.1h-12.1zM1883.3 1581h12.1v12.1h-12.1zM1922.5 1632h12.1v12.1h-12.1zM1961.8 1666.3h12.1v12.1h-12.1zM2001.1 1606.8h12.1v12.1h-12.1zM2040.3 1765.8h12.1v12.1h-12.1zM2079.6 1725.2h12.1v12.1h-12.1zM2118.9 1702.8h12.1v12.1h-12.1zM2158.2 1759.5h12.1v12.1h-12.1zM2197.4 1816.2h12.1v12.1h-12.1zM2236.7 1835.8h12.1v12.1h-12.1zM2276 1869.3h12.1v12.1h-12.1z"/>
</g>
</g>
<g filter="url(#fl)">
<rect x="198.5" y="28" width="234" height="492.5" fill="#ffffff" stroke="#adadad" stroke-width="5"/>
<rect x="203" y="1267" width="271" height="539" fill="#ffffff"/>
<rect x="203" y="1803.5" width="272.5" height="5" fill="#b4b4b4"/>
<rect x="471.8" y="1264" width="3.8" height="544.5" fill="#9a9a9a"/>
</g>
<g filter="url(#fm)">
<path fill="#808080" d="M245 56h11v11h-11z"/>
<path fill="#ff0000" d="M244.8 100.7a5.7 5.7 0 1 0 11.4 0a5.7 5.7 0 1 0 -11.4 0z"/>
<path fill="#00ffff" d="M248.8 147.7h3.4l5.6 -13.6h-14.6z"/>
<path fill="#0000ff" d="M248.8 172.3h3.4l5.6 13.6h-14.6z"/>
<path fill="#808000" d="M244.8 218.3a5.7 5.7 0 1 0 11.4 0a5.7 5.7 0 1 0 -11.4 0z"/>
<path fill="#000000" d="M245 252h11v11h-11z"/>
<path fill="#ff00ff" d="M243.7 295v3.4l13.6 5.6v-14.6z"/>
<path fill="#00ffff" d="M243.2 335.9a7.3 7.3 0 1 0 14.6 0a7.3 7.3 0 1 0 -14.6 0z"/>
<path fill="#0000ff" d="M248.8 382.9h3.4l5.6 -13.6h-14.6z"/>
<path fill="#00ff00" d="M248.8 407.5h3.4l5.6 13.6h-14.6z"/>
<path fill="#ff0000" d="M244.8 453.5a5.7 5.7 0 1 0 11.4 0a5.7 5.7 0 1 0 -11.4 0z"/>
<path fill="#000000" d="M245 487.2h11v11h-11z"/>
<path fill="#808080" d="M248.9 1297.5h12.1v12.1h-12.1z"/>
<path fill="#ff0000" d="M248.7 1347a6.3 6.3 0 1 0 12.5 0a6.3 6.3 0 1 0 -12.5 0z"/>
<path fill="#00ffff" d="M253 1398.7h4l6.1 -14.2h-16.2z"/>
<path fill="#0000ff" d="M253 1427.1h4l6.1 14.2h-16.2z"/>
<path fill="#808000" d="M248.7 1477.7a6.3 6.3 0 1 0 12.5 0a6.3 6.3 0 1 0 -12.5 0z"/>
<path fill="#000000" d="M248.9 1515.2h12.1v12.1h-12.1z"/>
<path fill="#ff00ff" d="M247.9 1562.8v4l14.2 6.1v-16.2z"/>
<path fill="#00ffff" d="M247 1608.3a8 8 0 1 0 16.1 0a8 8 0 1 0 -16.1 0z"/>
<path fill="#0000ff" d="M253 1660h4l6.1 -14.2h-16.2z"/>
<path fill="#00ff00" d="M253 1703.5h4l6.1 -14.2h-16.2z"/>
<path fill="#ff0000" d="M248.7 1739a6.3 6.3 0 1 0 12.5 0a6.3 6.3 0 1 0 -12.5 0z"/>
<path fill="#000000" d="M248.9 1776.5h12.1v12.1h-12.1z"/>
</g>
<g filter="url(#fl)">
<rect x="189.6" y="22" width="3.4" height="1162.5" fill="#d2d2d2"/>
<rect x="193" y="1161.6" width="2122" height="3" fill="#d2d2d2"/>
<rect x="2307.5" y="22" width="3.6" height="1162.5" fill="#9a9a9a"/>
<rect x="193" y="21.3" width="2122.5" height="4.2" fill="#9c9c9c"/>
<rect x="185.5" y="1258.5" width="2130" height="11" fill="#d6d6d6"/>
<rect x="198.5" y="2455.9" width="2117" height="3" fill="#d2d2d2"/>
<rect x="2307.5" y="1262" width="3.6" height="1207" fill="#9a9a9a"/>
<rect x="200.8" y="1262" width="3.6" height="1207" fill="#868686"/>
<rect x="343.9" y="1159.5" width="4.6" height="13" fill="#2a2a2a"/>
<rect x="495.2" y="1159.5" width="4.6" height="25" fill="#2a2a2a"/>
<rect x="495.2" y="25" width="4.6" height="14" fill="#2a2a2a"/>
<rect x="646.5" y="1159.5" width="4.6" height="13" fill="#2a2a2a"/>
<rect x="646.5" y="25" width="4.6" height="8" fill="#2a2a2a"/>
<rect x="797.7" y="1159.5" width="4.6" height="25" fill="#2a2a2a"/>
<rect x="797.7" y="25" width="4.6" height="14" fill="#2a2a2a"/>
<rect x="949" y="1159.5" width="4.6" height="13" fill="#2a2a2a"/>
<rect x="949" y="25" width="4.6" height="8" fill="#2a2a2a"/>
<rect x="1100.2" y="1159.5" width="4.6" height="25" fill="#2a2a2a"/>
<rect x="1100.2" y="25" width="4.6" height="14" fill="#2a2a2a"/>
<rect x="1251.5" y="1159.5" width="4.6" height="13" fill="#2a2a2a"/>
<rect x="1251.5" y="25" width="4.6" height="8" fill="#2a2a2a"/>
<rect x="1402.7" y="1159.5" width="4.6" height="25" fill="#2a2a2a"/>
<rect x="1402.7" y="25" width="4.6" height="14" fill="#2a2a2a"/>
<rect x="1554" y="1159.5" width="4.6" height="13" fill="#2a2a2a"/>
<rect x="1554" y="25" width="4.6" height="8" fill="#2a2a2a"/>
<rect x="1705.2" y="1159.5" width="4.6" height="25" fill="#2a2a2a"/>
<rect x="1705.2" y="25" width="4.6" height="14" fill="#2a2a2a"/>
<rect x="1856.5" y="1159.5" width="4.6" height="13" fill="#2a2a2a"/>
<rect x="1856.5" y="25" width="4.6" height="8" fill="#2a2a2a"/>
<rect x="2007.7" y="1159.5" width="4.6" height="25" fill="#2a2a2a"/>
<rect x="2007.7" y="25" width="4.6" height="14" fill="#2a2a2a"/>
<rect x="2158.9" y="1159.5" width="4.6" height="13" fill="#2a2a2a"/>
<rect x="2158.9" y="25" width="4.6" height="8" fill="#2a2a2a"/>
<rect x="171" y="1128.8" width="24" height="5" fill="#2a2a2a"/>
<rect x="2299" y="1128.8" width="13.5" height="5" fill="#2a2a2a"/>
<rect x="182" y="1041.5" width="13" height="5" fill="#2a2a2a"/>
<rect x="2302.5" y="1041.5" width="10" height="5" fill="#2a2a2a"/>
<rect x="171" y="954.1" width="24" height="5" fill="#2a2a2a"/>
<rect x="2299" y="954.1" width="13.5" height="5" fill="#2a2a2a"/>
<rect x="182" y="866.8" width="13" height="5" fill="#2a2a2a"/>
<rect x="2302.5" y="866.8" width="10" height="5" fill="#2a2a2a"/>
<rect x="171" y="779.5" width="24" height="5" fill="#2a2a2a"/>
<rect x="2299" y="779.5" width="13.5" height="5" fill="#2a2a2a"/>
<rect x="182" y="692.1" width="13" height="5" fill="#2a2a2a"/>
<rect x="2302.5" y="692.1" width="10" height="5" fill="#2a2a2a"/>
<rect x="171" y="604.8" width="24" height="5" fill="#2a2a2a"/>
<rect x="2299" y="604.8" width="13.5" height="5" fill="#2a2a2a"/>
<rect x="182" y="517.5" width="13" height="5" fill="#2a2a2a"/>
<rect x="2302.5" y="517.5" width="10" height="5" fill="#2a2a2a"/>
<rect x="171" y="430.2" width="24" height="5" fill="#2a2a2a"/>
<rect x="2299" y="430.2" width="13.5" height="5" fill="#2a2a2a"/>
<rect x="182" y="342.8" width="13" height="5" fill="#2a2a2a"/>
<rect x="2302.5" y="342.8" width="10" height="5" fill="#2a2a2a"/>
<rect x="171" y="255.5" width="24" height="5" fill="#2a2a2a"/>
<rect x="2299" y="255.5" width="13.5" height="5" fill="#2a2a2a"/>
<rect x="182" y="168.2" width="13" height="5" fill="#2a2a2a"/>
<rect x="2302.5" y="168.2" width="10" height="5" fill="#2a2a2a"/>
<rect x="171" y="80.8" width="24" height="5" fill="#2a2a2a"/>
<rect x="2299" y="80.8" width="13.5" height="5" fill="#2a2a2a"/>
<rect x="193" y="25" width="2122.5" height="3.8" fill="#4c4c4c"/>
<rect x="193" y="1157.7" width="2122.5" height="4.8" fill="#111111"/>
<rect x="192.9" y="22" width="4.2" height="1162.5" fill="#0a0a0a"/>
<rect x="2310.9" y="22" width="4.2" height="1162.5" fill="#303030"/>
<rect x="349.1" y="2454" width="4.6" height="9" fill="#2a2a2a"/>
<rect x="500" y="2454" width="4.6" height="15" fill="#2a2a2a"/>
<rect x="500" y="1264" width="4.6" height="16" fill="#2a2a2a"/>
<rect x="650.9" y="2454" width="4.6" height="9" fill="#2a2a2a"/>
<rect x="650.9" y="1264" width="4.6" height="9" fill="#2a2a2a"/>
<rect x="801.8" y="2454" width="4.6" height="15" fill="#2a2a2a"/>
<rect x="801.8" y="1264" width="4.6" height="16" fill="#2a2a2a"/>
<rect x="952.7" y="2454" width="4.6" height="9" fill="#2a2a2a"/>
<rect x="952.7" y="1264" width="4.6" height="9" fill="#2a2a2a"/>
<rect x="1103.6" y="2454" width="4.6" height="15" fill="#2a2a2a"/>
<rect x="1103.6" y="1264" width="4.6" height="16" fill="#2a2a2a"/>
<rect x="1254.5" y="2454" width="4.6" height="9" fill="#2a2a2a"/>
<rect x="1254.5" y="1264" width="4.6" height="9" fill="#2a2a2a"/>
<rect x="1405.3" y="2454" width="4.6" height="15" fill="#2a2a2a"/>
<rect x="1405.3" y="1264" width="4.6" height="16" fill="#2a2a2a"/>
<rect x="1556.2" y="2454" width="4.6" height="9" fill="#2a2a2a"/>
<rect x="1556.2" y="1264" width="4.6" height="9" fill="#2a2a2a"/>
<rect x="1707.1" y="2454" width="4.6" height="15" fill="#2a2a2a"/>
<rect x="1707.1" y="1264" width="4.6" height="16" fill="#2a2a2a"/>
<rect x="1858" y="2454" width="4.6" height="9" fill="#2a2a2a"/>
<rect x="1858" y="1264" width="4.6" height="9" fill="#2a2a2a"/>
<rect x="2008.9" y="2454" width="4.6" height="15" fill="#2a2a2a"/>
<rect x="2008.9" y="1264" width="4.6" height="16" fill="#2a2a2a"/>
<rect x="2159.8" y="2454" width="4.6" height="9" fill="#2a2a2a"/>
<rect x="2159.8" y="1264" width="4.6" height="9" fill="#2a2a2a"/>
<rect x="185.5" y="2381.8" width="14" height="5" fill="#2a2a2a"/>
<rect x="2297" y="2381.8" width="16" height="5" fill="#2a2a2a"/>
<rect x="192.5" y="2311.8" width="7" height="5" fill="#2a2a2a"/>
<rect x="2303.5" y="2311.8" width="9.5" height="5" fill="#2a2a2a"/>
<rect x="185.5" y="2241.8" width="14" height="5" fill="#2a2a2a"/>
<rect x="2297" y="2241.8" width="16" height="5" fill="#2a2a2a"/>
<rect x="192.5" y="2171.8" width="7" height="5" fill="#2a2a2a"/>
<rect x="2303.5" y="2171.8" width="9.5" height="5" fill="#2a2a2a"/>
<rect x="185.5" y="2101.8" width="14" height="5" fill="#2a2a2a"/>
<rect x="2297" y="2101.8" width="16" height="5" fill="#2a2a2a"/>
<rect x="192.5" y="2031.8" width="7" height="5" fill="#2a2a2a"/>
<rect x="2303.5" y="2031.8" width="9.5" height="5" fill="#2a2a2a"/>
<rect x="185.5" y="1961.8" width="14" height="5" fill="#2a2a2a"/>
<rect x="2297" y="1961.8" width="16" height="5" fill="#2a2a2a"/>
<rect x="192.5" y="1891.8" width="7" height="5" fill="#2a2a2a"/>
<rect x="2303.5" y="1891.8" width="9.5" height="5" fill="#2a2a2a"/>
<rect x="185.5" y="1821.8" width="14" height="5" fill="#2a2a2a"/>
<rect x="2297" y="1821.8" width="16" height="5" fill="#2a2a2a"/>
<rect x="192.5" y="1751.8" width="7" height="5" fill="#2a2a2a"/>
<rect x="2303.5" y="1751.8" width="9.5" height="5" fill="#2a2a2a"/>
<rect x="185.5" y="1681.8" width="14" height="5" fill="#2a2a2a"/>
<rect x="2297" y="1681.8" width="16" height="5" fill="#2a2a2a"/>
<rect x="192.5" y="1611.8" width="7" height="5" fill="#2a2a2a"/>
<rect x="2303.5" y="1611.8" width="9.5" height="5" fill="#2a2a2a"/>
<rect x="185.5" y="1541.8" width="14" height="5" fill="#2a2a2a"/>
<rect x="2297" y="1541.8" width="16" height="5" fill="#2a2a2a"/>
<rect x="192.5" y="1471.8" width="7" height="5" fill="#2a2a2a"/>
<rect x="2303.5" y="1471.8" width="9.5" height="5" fill="#2a2a2a"/>
<rect x="185.5" y="1401.8" width="14" height="5" fill="#2a2a2a"/>
<rect x="2297" y="1401.8" width="16" height="5" fill="#2a2a2a"/>
<rect x="192.5" y="1331.8" width="7" height="5" fill="#2a2a2a"/>
<rect x="2303.5" y="1331.8" width="9.5" height="5" fill="#2a2a2a"/>
<rect x="196.6" y="1262" width="4.6" height="1207" fill="#3a3a3a"/>
<rect x="2310.9" y="1262" width="4.2" height="1207" fill="#2a2a2a"/>
<rect x="185.5" y="1262.2" width="2130" height="3.6" fill="#0a0a0a"/>
<rect x="197" y="2452.1" width="2118.5" height="4.6" fill="#111111"/>
</g>
<g filter="url(#ft)">
<g class="t" font-size="42.6">
<text x="167" y="1143.9" text-anchor="end">0</text>
<text x="167" y="969.1" text-anchor="end">30</text>
<text x="167" y="794.2" text-anchor="end">60</text>
<text x="167" y="619.4" text-anchor="end">90</text>
<text x="167" y="444.5" text-anchor="end">120</text>
<text x="167" y="269.7" text-anchor="end">150</text>
<text x="167" y="94.9" text-anchor="end">180</text>
<text x="195" y="1230.3" text-anchor="middle">0.0</text>
<text x="497.5" y="1230.3" text-anchor="middle">0.5</text>
<text x="800" y="1230.3" text-anchor="middle">1.0</text>
<text x="1102.5" y="1230.3" text-anchor="middle">1.5</text>
<text x="1405" y="1230.3" text-anchor="middle">2.0</text>
<text x="1707.5" y="1230.3" text-anchor="middle">2.5</text>
<text x="2010" y="1230.3" text-anchor="middle">3.0</text>
<text x="2312.5" y="1230.3" text-anchor="middle">3.5</text>
</g>
<g class="t" font-size="32">
<text x="285.5" y="73.1">20170331</text>
<text x="285.5" y="112.3">20170609</text>
<text x="285.5" y="151.5">20170820</text>
<text x="285.5" y="190.7">20171009</text>
<text x="285.5" y="229.9">20171218</text>
<text x="285.5" y="269.1">20180216</text>
<text x="285.5" y="308.3">20180312</text>
<text x="285.5" y="347.5">20180419</text>
<text x="285.5" y="386.7">20180523</text>
<text x="285.5" y="425.9">20180628</text>
<text x="285.5" y="465.1">20180722</text>
<text x="285.5" y="504.3">20180815</text>
</g>
<text class="s" font-size="41.5" text-anchor="middle" textLength="494" lengthAdjust="spacing" transform="translate(49.5 593) rotate(-90)">Vertical Deformation (mm)</text>
<text class="s" font-size="60" letter-spacing="1.6" x="2186" y="102">(a)</text>
<g class="t" font-size="48">
<text x="172" y="2410.5" text-anchor="end">-30</text>
<text x="172" y="2270.5" text-anchor="end">-20</text>
<text x="172" y="2130.5" text-anchor="end">-10</text>
<text x="172" y="1990.5" text-anchor="end">0</text>
<text x="172" y="1850.5" text-anchor="end">10</text>
<text x="172" y="1710.5" text-anchor="end">20</text>
<text x="172" y="1570.5" text-anchor="end">30</text>
<text x="172" y="1430.5" text-anchor="end">40</text>
<text x="172" y="1290.5" text-anchor="end">50</text>
<text x="200.5" y="2514.5" text-anchor="middle">0.0</text>
<text x="502.3" y="2514.5" text-anchor="middle">0.5</text>
<text x="804.1" y="2514.5" text-anchor="middle">1.0</text>
<text x="1105.9" y="2514.5" text-anchor="middle">1.5</text>
<text x="1407.6" y="2514.5" text-anchor="middle">2.0</text>
<text x="1709.4" y="2514.5" text-anchor="middle">2.5</text>
<text x="2011.2" y="2514.5" text-anchor="middle">3.0</text>
<text x="2313" y="2514.5" text-anchor="middle">3.5</text>
</g>
<g class="t" font-size="35.5">
<text x="304" y="1316.3">20170331</text>
<text x="304" y="1359.8">20170609</text>
<text x="304" y="1403.4">20170820</text>
<text x="304" y="1447">20171009</text>
<text x="304" y="1490.5">20171218</text>
<text x="304" y="1534">20180216</text>
<text x="304" y="1577.6">20180312</text>
<text x="304" y="1621.1">20180419</text>
<text x="304" y="1664.7">20180523</text>
<text x="304" y="1708.2">20180628</text>
<text x="304" y="1751.8">20180722</text>
<text x="304" y="1795.3">20180815</text>
</g>
<text class="s" font-size="46.5" text-anchor="middle" transform="translate(75 1860) rotate(-90)">Horizontal Deformation (mm)</text>
<text class="s" font-size="60" letter-spacing="1.8" x="2186" y="1339">(b)</text>
<text class="s" font-size="46.2" x="1256" y="2588" text-anchor="middle">Distance (km)</text>
</g>
</svg>
</body></html>
